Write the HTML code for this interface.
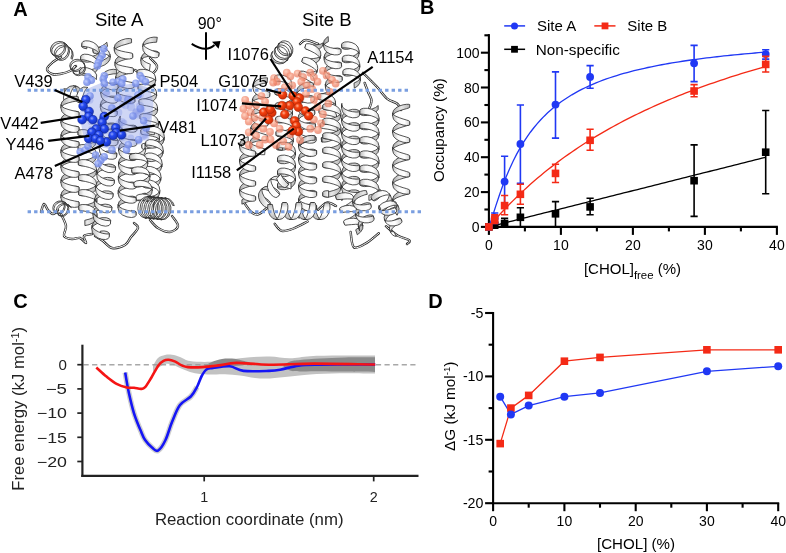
<!DOCTYPE html>
<html><head><meta charset="utf-8"><style>
html,body{margin:0;padding:0;background:#fff;width:786px;height:553px;overflow:hidden}
svg{display:block;filter:blur(0.35px)}
</style></head><body>
<svg width="786" height="553" viewBox="0 0 786 553">
<rect width="786" height="553" fill="#fff"/>
<defs>
<linearGradient id="gh" x1="0" y1="0" x2="1" y2="0"><stop offset="0" stop-color="#bdbdbd"/><stop offset="0.3" stop-color="#f8f8f8"/><stop offset="0.7" stop-color="#fff"/><stop offset="1" stop-color="#d0d0d0"/></linearGradient>
<linearGradient id="gv" x1="0" y1="0" x2="0" y2="1"><stop offset="0" stop-color="#bdbdbd"/><stop offset="0.3" stop-color="#f8f8f8"/><stop offset="0.7" stop-color="#fff"/><stop offset="1" stop-color="#d0d0d0"/></linearGradient>
<linearGradient id="gbh" x1="0" y1="0" x2="1" y2="0"><stop offset="0" stop-color="#a8a8a8"/><stop offset="0.5" stop-color="#e8e8e8"/><stop offset="1" stop-color="#b4b4b4"/></linearGradient>
<linearGradient id="gbv" x1="0" y1="0" x2="0" y2="1"><stop offset="0" stop-color="#a8a8a8"/><stop offset="0.5" stop-color="#e8e8e8"/><stop offset="1" stop-color="#b4b4b4"/></linearGradient>
<radialGradient id="sphB" cx="0.38" cy="0.35" r="0.7"><stop offset="0" stop-color="#8ea2ff"/><stop offset="0.35" stop-color="#2448f0"/><stop offset="1" stop-color="#1430b8"/></radialGradient>
<radialGradient id="sphR" cx="0.38" cy="0.35" r="0.7"><stop offset="0" stop-color="#ffb090"/><stop offset="0.35" stop-color="#f5400f"/><stop offset="1" stop-color="#c52a05"/></radialGradient>
<radialGradient id="sphL" cx="0.4" cy="0.35" r="0.7"><stop offset="0" stop-color="#b8c6ff"/><stop offset="0.5" stop-color="#7f96ee"/><stop offset="1" stop-color="#6a80dc"/></radialGradient>
<radialGradient id="sphS" cx="0.4" cy="0.35" r="0.7"><stop offset="0" stop-color="#ffc0a8"/><stop offset="0.5" stop-color="#f2876a"/><stop offset="1" stop-color="#e4745a"/></radialGradient>
</defs>
<g><path d="M61.0,57.0 C59.7,57.8 55.3,60.0 53.0,62.0 C50.7,64.0 47.2,67.0 47.0,69.0 C46.8,71.0 49.8,73.2 52.0,74.0 C54.2,74.8 57.0,74.5 60.0,74.0 C63.0,73.5 67.3,72.3 70.0,71.0 C72.7,69.7 75.0,66.8 76.0,66.0" fill="none" stroke="#2a2a2a" stroke-width="2.4" stroke-linecap="round" stroke-linejoin="round"/><path d="M61.0,57.0 C59.7,57.8 55.3,60.0 53.0,62.0 C50.7,64.0 47.2,67.0 47.0,69.0 C46.8,71.0 49.8,73.2 52.0,74.0 C54.2,74.8 57.0,74.5 60.0,74.0 C63.0,73.5 67.3,72.3 70.0,71.0 C72.7,69.7 75.0,66.8 76.0,66.0" fill="none" stroke="#f6f6f6" stroke-width="1.0" stroke-linecap="round" stroke-linejoin="round"/><path d="M150.0,58.0 C151.2,59.3 156.5,63.5 157.0,66.0 C157.5,68.5 155.3,71.7 153.0,73.0 C150.7,74.3 146.0,74.5 143.0,74.0 C140.0,73.5 136.3,70.7 135.0,70.0" fill="none" stroke="#2a2a2a" stroke-width="2.4" stroke-linecap="round" stroke-linejoin="round"/><path d="M150.0,58.0 C151.2,59.3 156.5,63.5 157.0,66.0 C157.5,68.5 155.3,71.7 153.0,73.0 C150.7,74.3 146.0,74.5 143.0,74.0 C140.0,73.5 136.3,70.7 135.0,70.0" fill="none" stroke="#f6f6f6" stroke-width="1.0" stroke-linecap="round" stroke-linejoin="round"/><path d="M41.0,212.0 C41.5,210.7 42.8,204.3 44.0,204.0 C45.2,203.7 46.5,208.3 48.0,210.0 C49.5,211.7 51.3,214.0 53.0,214.0 C54.7,214.0 57.2,210.7 58.0,210.0" fill="none" stroke="#2a2a2a" stroke-width="2.4" stroke-linecap="round" stroke-linejoin="round"/><path d="M41.0,212.0 C41.5,210.7 42.8,204.3 44.0,204.0 C45.2,203.7 46.5,208.3 48.0,210.0 C49.5,211.7 51.3,214.0 53.0,214.0 C54.7,214.0 57.2,210.7 58.0,210.0" fill="none" stroke="#f6f6f6" stroke-width="1.0" stroke-linecap="round" stroke-linejoin="round"/><path d="M61.0,214.0 C61.8,216.0 65.5,222.3 66.0,226.0 C66.5,229.7 63.0,233.8 64.0,236.0 C65.0,238.2 69.3,238.7 72.0,239.0 C74.7,239.3 77.7,237.3 80.0,238.0 C82.3,238.7 85.3,243.3 86.0,243.0 C86.7,242.7 83.0,237.5 84.0,236.0 C85.0,234.5 90.7,234.3 92.0,234.0" fill="none" stroke="#2a2a2a" stroke-width="2.4" stroke-linecap="round" stroke-linejoin="round"/><path d="M61.0,214.0 C61.8,216.0 65.5,222.3 66.0,226.0 C66.5,229.7 63.0,233.8 64.0,236.0 C65.0,238.2 69.3,238.7 72.0,239.0 C74.7,239.3 77.7,237.3 80.0,238.0 C82.3,238.7 85.3,243.3 86.0,243.0 C86.7,242.7 83.0,237.5 84.0,236.0 C85.0,234.5 90.7,234.3 92.0,234.0" fill="none" stroke="#f6f6f6" stroke-width="1.0" stroke-linecap="round" stroke-linejoin="round"/><path d="M95.0,236.0 C96.3,236.8 100.2,239.0 103.0,241.0 C105.8,243.0 108.3,247.3 112.0,248.0 C115.7,248.7 121.8,246.8 125.0,245.0 C128.2,243.2 128.8,239.8 131.0,237.0 C133.2,234.2 137.5,230.3 138.0,228.0 C138.5,225.7 134.7,223.8 134.0,223.0" fill="none" stroke="#2a2a2a" stroke-width="2.4" stroke-linecap="round" stroke-linejoin="round"/><path d="M95.0,236.0 C96.3,236.8 100.2,239.0 103.0,241.0 C105.8,243.0 108.3,247.3 112.0,248.0 C115.7,248.7 121.8,246.8 125.0,245.0 C128.2,243.2 128.8,239.8 131.0,237.0 C133.2,234.2 137.5,230.3 138.0,228.0 C138.5,225.7 134.7,223.8 134.0,223.0" fill="none" stroke="#f6f6f6" stroke-width="1.0" stroke-linecap="round" stroke-linejoin="round"/><path d="M150.0,220.0 C151.3,221.3 154.7,226.0 158.0,228.0 C161.3,230.0 166.7,232.3 170.0,232.0 C173.3,231.7 177.7,228.7 178.0,226.0 C178.3,223.3 173.0,217.7 172.0,216.0" fill="none" stroke="#2a2a2a" stroke-width="2.4" stroke-linecap="round" stroke-linejoin="round"/><path d="M150.0,220.0 C151.3,221.3 154.7,226.0 158.0,228.0 C161.3,230.0 166.7,232.3 170.0,232.0 C173.3,231.7 177.7,228.7 178.0,226.0 C178.3,223.3 173.0,217.7 172.0,216.0" fill="none" stroke="#f6f6f6" stroke-width="1.0" stroke-linecap="round" stroke-linejoin="round"/><path d="M106.8,42.2 104.8,44.1 101.9,45.9 98.6,47.4 95.6,48.6 93.6,49.3 92.8,49.7 93.3,52.6 94.2,53.1 96.4,53.1 99.4,52.4 102.7,50.9 105.6,48.7 107.5,46.1Z M109.8,54.0 109.2,56.0 107.1,58.0 103.8,59.9 100.3,61.5 97.3,62.7 98.0,67.0 101.1,66.4 104.7,64.9 107.8,62.6 109.8,59.8 110.3,56.9Z" fill="url(#gbh)" stroke="#2a2a2a" stroke-width="0.8" stroke-linejoin="round"/><path d="M92.8,49.4 93.4,48.4 95.5,47.6 98.7,47.3 102.4,47.7 105.9,49.0 108.5,51.0 109.7,53.7 110.3,57.2 109.3,55.8 106.8,54.6 103.5,53.9 99.8,53.5 96.5,53.3 94.2,53.2 93.4,52.9Z" fill="url(#gh)" stroke="#2a2a2a" stroke-width="0.8" stroke-linejoin="round"/><path d="M157.3,37.3 153.9,37.1 150.2,37.7 146.8,39.1 144.3,41.3 143.1,44.0 142.7,47.0 143.8,45.2 146.1,43.8 149.5,42.9 153.2,42.4 156.6,42.2Z M159.1,53.1 158.4,52.0 156.1,51.1 152.7,50.8 148.8,51.2 145.2,52.6 142.5,54.8 141.3,57.6 140.9,60.6 142.0,58.8 144.6,57.3 148.1,56.4 152.0,55.9 155.5,55.9 157.8,56.0 158.7,56.1Z" fill="url(#gbh)" stroke="#2a2a2a" stroke-width="0.8" stroke-linejoin="round"/><path d="M143.2,43.6 143.8,45.6 145.9,47.5 149.1,49.3 152.7,50.8 156.0,51.9 158.3,52.5 159.1,52.7 158.6,56.5 157.6,57.5 155.2,57.8 151.8,57.3 148.2,55.8 145.1,53.5 143.1,50.5 142.7,47.4Z M141.3,57.2 141.9,59.1 143.8,61.0 146.8,62.8 150.3,64.2 149.4,70.8 145.9,69.2 143.0,66.9 141.2,64.0 140.8,61.0Z" fill="url(#gh)" stroke="#2a2a2a" stroke-width="0.8" stroke-linejoin="round"/><path d="M87.2,43.9 84.4,43.8 82.6,43.5 82.0,43.2 81.7,46.1 82.2,47.3 84.0,48.2 86.7,48.8Z M99.3,51.4 98.2,53.6 95.6,55.3 91.8,56.5 87.8,57.2 84.1,57.2 81.7,56.9 80.8,56.5 80.6,59.5 81.3,60.8 83.8,61.8 87.3,62.2 91.4,61.6 95.2,59.9 97.9,57.4 99.1,54.3Z M98.2,64.7 97.1,66.9 94.4,68.7 90.7,69.9 86.6,70.5 83.0,70.6 80.5,70.3 79.7,69.9 79.4,72.8 80.2,74.2 82.6,75.2 86.2,75.5 90.3,74.9 94.0,73.3 96.8,70.8 97.9,67.7Z" fill="url(#gbh)" stroke="#2a2a2a" stroke-width="0.8" stroke-linejoin="round"/><path d="M82.0,42.8 83.0,41.5 85.6,40.8 89.2,41.0 93.1,42.3 96.5,44.6 98.7,47.7 99.3,51.0 99.0,54.7 98.3,52.5 96.0,50.4 92.5,48.6 88.6,47.3 85.1,46.6 82.6,46.4 81.7,46.5Z M80.8,56.2 81.8,54.9 84.4,54.2 88.0,54.4 91.9,55.7 95.3,58.0 97.6,61.0 98.2,64.4 97.9,68.0 97.2,65.8 94.9,63.7 91.4,62.0 87.5,60.7 83.9,59.9 81.4,59.7 80.5,59.8Z M79.7,69.5 80.8,68.2 83.5,67.5 87.2,67.8 91.2,69.2 94.6,71.7 96.7,74.9 96.3,79.6 94.1,77.4 90.7,75.5 86.7,74.1 83.0,73.3 80.3,73.0 79.4,73.2Z" fill="url(#gh)" stroke="#2a2a2a" stroke-width="0.8" stroke-linejoin="round"/><path d="M131.5,38.9 129.3,38.5 125.7,38.8 121.6,40.0 117.7,41.9 115.1,44.6 114.3,47.5 114.4,50.7 115.3,48.9 118.0,47.1 121.8,45.5 126.0,44.3 129.5,43.3 131.6,42.7Z M132.6,54.1 131.7,53.5 129.2,53.3 125.6,53.7 121.6,55.0 118.1,57.0 115.7,59.5 115.0,62.3 115.1,65.5 115.9,63.7 118.4,62.0 121.9,60.5 125.8,59.3 129.4,58.3 131.9,57.7 132.7,57.2Z M133.3,68.8 132.4,68.2 129.9,68.0 126.3,68.5 122.3,69.8 118.8,71.7 116.4,74.3 115.7,77.1 115.8,80.2 116.6,78.5 119.1,76.8 122.6,75.3 126.6,74.0 130.1,73.1 132.6,72.4 133.5,72.0Z M134.0,83.6 133.1,83.0 130.6,82.8 127.0,83.3 123.1,84.5 119.5,86.5 117.2,89.0 116.4,91.8 116.6,95.0 117.4,93.3 119.8,91.6 123.3,90.1 127.3,88.8 130.8,87.9 133.3,87.2 134.2,86.7Z M134.7,98.4 133.5,97.7 130.3,97.6 126.0,98.5 126.2,104.1 130.6,102.9 133.7,102.0 134.9,101.5Z" fill="url(#gbh)" stroke="#2a2a2a" stroke-width="0.8" stroke-linejoin="round"/><path d="M114.2,47.1 115.2,48.7 117.8,50.0 121.4,51.1 125.5,52.0 129.1,52.6 131.7,53.2 132.6,53.7 132.8,57.6 131.9,58.4 129.4,59.0 125.8,58.9 121.8,58.0 118.1,56.3 115.5,53.9 114.4,51.1Z M115.0,61.9 115.9,63.4 118.5,64.8 122.2,65.9 126.2,66.7 129.8,67.4 132.4,67.9 133.3,68.4 133.5,72.4 132.6,73.2 130.2,73.7 126.5,73.7 122.5,72.8 118.8,71.1 116.2,68.7 115.1,65.8Z M115.7,76.7 116.6,78.2 119.2,79.5 122.9,80.6 126.9,81.5 130.6,82.2 133.1,82.7 134.0,83.2 134.2,87.1 133.3,88.0 130.9,88.5 127.3,88.4 123.2,87.6 119.5,85.9 116.9,83.5 115.9,80.6Z M116.4,91.5 117.3,93.0 119.9,94.3 123.6,95.4 127.6,96.3 131.3,96.9 133.8,97.5 134.7,98.0 134.9,101.9 134.1,102.7 131.6,103.3 128.0,103.2 123.9,102.3 120.2,100.6 117.6,98.2 116.6,95.4Z" fill="url(#gh)" stroke="#2a2a2a" stroke-width="0.8" stroke-linejoin="round"/><path d="M63.8,88.7 64.7,92.0 65.2,95.5 65.4,98.5 65.3,100.5 65.3,101.2 68.1,101.5 69.0,100.8 69.8,98.8 70.0,95.9 69.6,92.4 68.4,89.1Z M73.0,85.8 74.8,86.8 76.3,89.1 77.3,92.5 77.9,96.1 78.1,99.3 78.1,101.5 78.0,102.3 80.9,102.6 81.8,101.9 82.6,99.7 82.8,96.5 82.2,92.9 80.7,89.5 78.5,87.1 75.8,86.1Z" fill="url(#gbv)" stroke="#2a2a2a" stroke-width="0.8" stroke-linejoin="round"/><path d="M64.9,101.2 63.9,100.3 63.5,98.0 63.8,94.9 65.0,91.4 67.1,88.3 69.7,86.4 72.7,85.8 76.2,86.1 74.4,86.8 72.7,88.8 71.1,91.9 69.9,95.4 69.0,98.5 68.6,100.7 68.4,101.5Z M77.7,102.3 76.7,101.3 76.2,98.8 76.8,95.2 78.3,91.6 80.7,88.6 83.7,87.0 87.9,87.4 86.0,89.1 84.3,92.1 82.9,95.8 81.9,99.3 81.4,101.7 81.2,102.6Z" fill="url(#gv)" stroke="#2a2a2a" stroke-width="0.8" stroke-linejoin="round"/><path d="M116.7,69.7 113.3,69.3 109.2,69.9 105.3,71.6 102.5,74.3 101.4,77.5 101.3,80.3 102.4,78.0 105.2,76.0 109.1,74.6 113.2,73.9 116.5,73.8Z M118.1,84.8 117.3,83.6 115.0,82.8 111.6,82.7 107.8,83.6 104.3,85.3 101.9,87.9 100.9,90.9 100.8,93.7 101.7,91.5 104.2,89.7 107.6,88.3 111.4,87.5 114.8,87.2 117.2,87.3 118.0,87.6Z M117.7,98.2 116.9,97.0 114.5,96.2 111.1,96.1 107.3,97.0 103.8,98.7 101.4,101.3 100.4,104.3 100.4,107.1 101.3,104.9 103.7,103.1 107.2,101.7 111.0,100.8 114.4,100.5 116.7,100.7 117.6,101.0Z M117.2,111.6 116.4,110.4 114.1,109.6 110.7,109.5 106.9,110.4 103.4,112.1 100.9,114.7 100.0,117.7 99.9,120.4 100.8,118.3 103.2,116.4 106.7,115.1 110.5,114.2 113.9,113.9 116.3,114.0 117.1,114.3Z M116.7,125.0 115.9,123.8 113.4,123.0 109.8,123.0 105.9,123.9 102.4,125.9 100.1,128.7 100.0,132.1 102.2,130.1 105.7,128.6 109.6,127.7 113.2,127.3 115.8,127.4 116.7,127.7Z" fill="url(#gbh)" stroke="#2a2a2a" stroke-width="0.8" stroke-linejoin="round"/><path d="M101.4,77.2 102.2,79.3 104.4,81.2 107.8,82.8 111.6,83.9 114.9,84.5 117.3,84.6 118.1,84.5 118.0,87.9 117.1,89.1 114.8,89.9 111.3,89.8 107.6,88.7 104.3,86.6 102.0,83.8 101.3,80.6Z M100.9,90.6 101.7,92.7 104.0,94.6 107.3,96.2 111.1,97.3 114.5,97.8 116.8,98.0 117.7,97.9 117.6,101.3 116.7,102.5 114.3,103.2 110.9,103.1 107.1,102.1 103.8,100.0 101.5,97.2 100.8,94.0Z M100.5,104.0 101.2,106.1 103.5,108.0 106.9,109.6 110.6,110.7 114.0,111.2 116.4,111.4 117.2,111.2 117.1,114.7 116.2,115.9 113.8,116.6 110.4,116.5 106.7,115.4 103.3,113.4 101.1,110.6 100.3,107.4Z M100.0,117.4 100.8,119.5 103.1,121.4 106.4,123.0 110.2,124.0 113.6,124.6 115.9,124.8 116.8,124.6 116.6,128.1 115.8,129.3 113.4,130.0 110.0,129.9 106.2,128.8 102.9,126.8 100.6,124.0 99.9,120.8Z" fill="url(#gh)" stroke="#2a2a2a" stroke-width="0.8" stroke-linejoin="round"/><path d="M140.7,70.0 138.7,70.5 137.5,70.9 137.1,71.2 137.3,74.4 137.7,74.8 139.0,75.1 141.0,75.1Z M155.5,77.4 154.7,79.2 152.3,80.9 148.8,82.5 144.9,83.8 141.3,84.8 138.9,85.5 138.0,86.0 138.2,89.1 139.1,89.7 141.6,89.9 145.2,89.3 149.2,88.0 152.6,86.0 155.0,83.4 155.7,80.6Z M156.4,92.2 155.7,93.9 153.3,95.7 149.8,97.2 145.8,98.5 142.3,99.6 139.8,100.3 139.0,100.7 139.2,103.9 140.1,104.5 142.6,104.6 146.2,104.1 150.1,102.8 153.6,100.7 155.9,98.2 156.6,95.3Z M157.4,107.0 156.6,108.7 154.2,110.4 150.7,112.0 146.8,113.3 143.2,114.3 140.8,115.0 139.9,115.5 140.1,118.6 141.0,119.2 143.5,119.4 147.1,118.8 151.1,117.5 154.5,115.5 156.9,112.9 157.6,110.1Z M158.3,121.7 157.6,123.5 155.2,125.2 151.6,126.8 147.7,128.1 144.2,129.1 141.7,129.8 140.8,130.2 141.0,133.4 142.0,134.0 144.5,134.1 148.1,133.6 152.0,132.3 155.5,130.2 157.8,127.7 158.5,124.9Z M159.3,136.5 158.2,138.5 155.0,140.5 150.6,142.2 146.2,143.5 143.0,144.4 141.8,145.0 142.0,148.1 143.2,148.8 146.5,148.8 151.0,147.8 155.4,145.7 158.5,142.9 159.5,139.6Z" fill="url(#gbh)" stroke="#2a2a2a" stroke-width="0.8" stroke-linejoin="round"/><path d="M137.0,70.8 137.9,70.0 140.3,69.4 144.0,69.4 148.0,70.2 151.7,71.9 154.4,74.2 155.5,77.0 155.7,81.0 154.7,79.5 152.1,78.2 148.5,77.1 144.4,76.3 140.7,75.7 138.2,75.2 137.3,74.8Z M138.0,85.6 138.8,84.7 141.3,84.2 144.9,84.2 149.0,85.0 152.7,86.6 155.3,89.0 156.4,91.8 156.7,95.7 155.7,94.2 153.1,92.9 149.4,91.9 145.3,91.1 141.7,90.5 139.2,90.0 138.2,89.5Z M138.9,100.3 139.8,99.5 142.2,98.9 145.8,98.9 149.9,99.7 153.6,101.4 156.3,103.7 157.4,106.6 157.6,110.5 156.6,109.0 154.0,107.7 150.4,106.6 146.3,105.8 142.6,105.2 140.1,104.8 139.2,104.3Z M139.9,115.1 140.7,114.3 143.2,113.7 146.8,113.7 150.9,114.5 154.6,116.1 157.2,118.5 158.3,121.3 158.6,125.2 157.6,123.7 155.0,122.4 151.3,121.4 147.2,120.6 143.6,120.0 141.0,119.5 140.1,119.0Z M140.8,129.8 141.7,129.0 144.1,128.4 147.7,128.4 151.8,129.2 155.5,130.9 158.2,133.2 159.3,136.1 159.5,140.0 158.5,138.5 155.9,137.2 152.2,136.2 148.2,135.4 144.5,134.8 142.0,134.3 141.1,133.8Z M141.8,144.6 142.1,144.1 143.1,143.6 144.8,143.2 145.2,149.5 143.5,149.2 142.4,148.8 142.0,148.5Z" fill="url(#gh)" stroke="#2a2a2a" stroke-width="0.8" stroke-linejoin="round"/><path d="M78.3,96.8 75.9,96.3 72.3,96.4 68.2,97.5 64.5,99.4 61.9,102.0 61.0,105.0 61.0,108.1 61.9,106.1 64.5,104.3 68.2,102.9 72.3,101.8 75.9,101.2 78.3,100.8Z M79.0,112.5 78.1,111.7 75.6,111.2 72.0,111.5 68.0,112.5 64.4,114.5 61.9,117.0 61.0,120.0 61.0,123.1 61.9,121.2 64.4,119.4 68.0,117.9 72.0,116.9 75.6,116.2 78.1,115.8 79.0,115.6Z M79.0,127.5 78.1,126.7 75.6,126.2 72.0,126.5 68.0,127.5 64.4,129.4 61.9,132.0 61.0,135.0 61.0,138.1 61.9,136.1 64.4,134.4 68.0,132.9 72.0,131.9 75.6,131.2 78.1,130.8 79.0,130.6Z M79.0,142.5 78.1,141.7 75.6,141.2 72.0,141.4 68.0,142.5 64.4,144.4 61.9,147.0 61.0,150.0 61.0,153.0 61.9,151.1 64.4,149.4 68.0,147.9 72.0,146.9 75.6,146.2 78.1,145.8 79.0,145.6Z M79.0,157.5 78.1,156.6 75.6,156.2 72.0,156.4 68.0,157.5 64.4,159.4 61.9,162.0 61.0,164.9 61.0,168.0 61.9,166.1 64.4,164.4 68.0,162.9 72.0,161.8 75.6,161.1 78.1,160.8 79.0,160.5Z M79.0,172.4 77.8,171.5 74.5,171.2 70.0,171.9 65.5,173.7 62.2,176.5 61.0,179.9 61.0,183.0 62.2,180.8 65.5,178.8 70.0,177.3 74.5,176.3 77.8,175.8 79.0,175.5Z M79.0,187.4 78.1,186.6 75.6,186.2 72.0,186.4 68.0,187.5 64.4,189.4 61.9,192.0 61.0,194.9 61.0,198.0 61.9,196.1 64.4,194.3 68.0,192.9 72.0,191.8 75.6,191.1 78.1,190.7 79.0,190.5Z M79.0,202.4 78.9,202.1 78.6,201.9 78.2,201.6 78.2,205.7 78.6,205.6 78.9,205.6 79.0,205.5Z" fill="url(#gbh)" stroke="#2a2a2a" stroke-width="0.8" stroke-linejoin="round"/><path d="M61.0,104.6 61.9,106.4 64.4,108.1 68.0,109.4 72.0,110.5 75.6,111.3 78.1,111.8 79.0,112.1 79.0,116.0 78.1,116.9 75.6,117.4 72.0,117.3 68.0,116.2 64.4,114.2 61.9,111.6 61.0,108.5Z M61.0,119.6 61.9,121.4 64.4,123.0 68.0,124.4 72.0,125.5 75.6,126.3 78.1,126.7 79.0,127.1 79.0,131.0 78.1,131.9 75.6,132.4 72.0,132.3 68.0,131.2 64.4,129.2 61.9,126.5 61.0,123.5Z M61.0,134.6 61.9,136.4 64.4,138.0 68.0,139.4 72.0,140.5 75.6,141.2 78.1,141.7 79.0,142.1 79.0,145.9 78.1,146.9 75.6,147.4 72.0,147.2 68.0,146.2 64.4,144.2 61.9,141.5 61.0,138.4Z M61.0,149.6 61.9,151.4 64.4,153.0 68.0,154.4 72.0,155.5 75.6,156.2 78.1,156.7 79.0,157.1 79.0,160.9 78.1,161.9 75.6,162.4 72.0,162.2 68.0,161.2 64.4,159.2 61.9,156.5 61.0,153.4Z M61.0,164.6 61.9,166.4 64.4,168.0 68.0,169.4 72.0,170.5 75.6,171.2 78.1,171.7 79.0,172.1 79.0,175.9 78.1,176.9 75.6,177.4 72.0,177.2 68.0,176.2 64.4,174.2 61.9,171.5 61.0,168.4Z M61.0,179.5 61.9,181.3 64.4,183.0 68.0,184.4 72.0,185.5 75.6,186.2 78.1,186.7 79.0,187.0 79.0,190.9 78.1,191.8 75.6,192.4 72.0,192.2 68.0,191.1 64.4,189.2 61.9,186.5 61.0,183.4Z M61.0,194.5 62.2,196.6 65.5,198.5 70.0,200.0 74.5,201.0 77.8,201.6 79.0,202.0 79.0,205.9 77.8,207.0 74.5,207.4 70.0,206.8 65.5,204.9 62.2,202.0 61.0,198.4Z" fill="url(#gh)" stroke="#2a2a2a" stroke-width="0.8" stroke-linejoin="round"/><path d="M154.7,129.9 150.7,130.0 147.9,129.6 146.9,128.9 146.7,131.7 147.5,133.3 150.3,134.5 154.3,134.8Z M164.3,137.1 163.2,139.5 160.5,141.4 156.8,142.8 152.7,143.4 149.1,143.4 146.6,142.9 145.8,142.3 145.5,145.1 146.3,146.6 148.7,147.8 152.3,148.2 156.4,147.6 160.1,145.9 162.9,143.2 164.0,139.9Z M163.2,150.5 162.1,152.8 159.4,154.8 155.7,156.1 151.6,156.8 148.0,156.7 145.5,156.3 144.7,155.7 144.4,158.5 145.2,160.0 147.6,161.2 151.2,161.6 155.3,160.9 159.0,159.2 161.8,156.6 162.9,153.3Z M162.0,163.8 161.0,166.2 158.3,168.2 154.6,169.5 150.5,170.1 146.9,170.1 144.4,169.7 143.5,169.0 143.3,171.9 144.1,173.4 146.5,174.5 150.1,174.9 154.1,174.3 157.9,172.6 160.6,169.9 161.8,166.7Z M160.9,177.2 159.8,179.6 157.2,181.6 153.4,182.9 149.4,183.5 145.7,183.5 143.3,183.0 142.4,182.4 142.2,185.3 143.0,186.8 145.4,187.9 149.0,188.3 153.0,187.7 156.8,186.0 159.5,183.3 160.7,180.1Z M159.8,190.6 158.4,193.3 154.9,195.5 150.3,196.7 145.7,196.9 142.5,196.5 141.3,195.8 141.1,198.6 142.1,200.4 145.4,201.5 149.9,201.5 154.5,200.1 158.1,197.2 159.6,193.4Z" fill="url(#gbh)" stroke="#2a2a2a" stroke-width="0.8" stroke-linejoin="round"/><path d="M146.9,128.5 147.9,127.1 150.5,126.2 154.1,126.4 158.0,127.7 161.5,130.0 163.7,133.2 164.3,136.7 164.0,140.3 163.3,137.9 161.0,135.6 157.5,133.7 153.6,132.4 150.1,131.8 147.6,131.7 146.6,132.1Z M145.8,141.9 146.8,140.5 149.4,139.6 153.0,139.8 156.9,141.1 160.3,143.4 162.6,146.6 163.2,150.1 162.9,153.7 162.2,151.2 159.9,148.9 156.4,147.1 152.5,145.8 148.9,145.2 146.4,145.1 145.5,145.5Z M144.7,155.3 145.7,153.8 148.3,153.0 151.9,153.1 155.8,154.4 159.2,156.8 161.5,160.0 162.1,163.5 161.8,167.0 161.1,164.6 158.8,162.3 155.3,160.4 151.4,159.2 147.8,158.5 145.3,158.5 144.4,158.9Z M143.6,168.7 144.6,167.2 147.2,166.4 150.8,166.5 154.7,167.8 158.1,170.2 160.4,173.3 161.0,176.9 160.7,180.4 160.0,178.0 157.7,175.7 154.2,173.8 150.3,172.5 146.7,171.9 144.2,171.9 143.3,172.2Z M142.5,182.0 143.5,180.6 146.1,179.8 149.7,179.9 153.6,181.2 157.0,183.5 159.2,186.7 159.8,190.2 159.5,193.8 158.9,191.4 156.5,189.1 153.1,187.2 149.2,185.9 145.6,185.3 143.1,185.2 142.2,185.6Z M141.3,195.4 141.9,194.3 143.3,193.5 145.4,193.1 144.9,198.7 142.9,198.6 141.5,198.7 141.1,199.0Z" fill="url(#gh)" stroke="#2a2a2a" stroke-width="0.8" stroke-linejoin="round"/><path d="M120.3,116.0 119.6,117.1 119.2,118.4 119.0,119.6 119.0,122.6 119.1,121.8 119.6,121.0 120.3,120.2Z M136.9,126.9 136.0,125.9 133.6,125.2 129.9,125.3 125.9,126.2 122.3,128.1 119.8,130.8 118.9,133.8 118.8,136.8 119.7,134.8 122.3,132.9 125.9,131.5 129.9,130.5 133.5,130.0 136.0,129.9 136.9,129.9Z M136.8,141.1 135.9,140.1 133.4,139.4 129.8,139.5 125.8,140.4 122.2,142.3 119.6,145.0 118.7,148.0 118.7,151.1 119.6,149.0 122.1,147.1 125.7,145.7 129.7,144.7 133.4,144.2 135.9,144.1 136.7,144.1Z M136.6,155.3 135.8,154.3 133.3,153.6 129.7,153.7 125.6,154.6 122.0,156.5 119.5,159.2 118.6,162.2 118.5,165.3 119.4,163.2 122.0,161.3 125.6,159.9 129.6,158.9 133.2,158.4 135.7,158.3 136.6,158.3Z M136.5,169.5 135.6,168.5 133.1,167.8 129.5,167.9 125.5,168.9 121.9,170.7 119.3,173.4 118.4,176.4 118.4,179.5 119.3,177.4 121.8,175.5 125.4,174.1 129.4,173.1 133.1,172.6 135.6,172.5 136.5,172.5Z M136.3,183.7 135.1,182.5 131.9,182.0 127.3,182.5 122.8,184.2 119.5,187.1 118.3,190.6 118.2,193.7 119.5,191.3 122.8,189.2 127.3,187.7 131.8,186.9 135.1,186.7 136.3,186.8Z M136.2,197.9 135.3,196.9 132.8,196.2 129.2,196.3 125.2,197.3 121.6,199.2 119.0,201.8 118.1,204.8 118.1,207.9 119.0,205.8 121.5,204.0 125.1,202.5 129.2,201.5 132.8,201.0 135.3,200.9 136.2,201.0Z M136.0,212.1 135.5,211.3 133.8,210.6 131.3,210.4 131.2,215.4 133.8,215.1 135.4,215.1 136.0,215.2Z" fill="url(#gbh)" stroke="#2a2a2a" stroke-width="0.8" stroke-linejoin="round"/><path d="M119.0,119.2 119.9,121.2 122.4,123.0 126.0,124.5 129.9,125.5 133.5,126.2 136.0,126.5 136.9,126.5 136.9,130.3 136.0,131.5 133.5,132.2 129.9,132.1 125.9,131.0 122.3,129.0 119.8,126.2 119.0,123.0Z M118.9,133.4 119.7,135.4 122.2,137.2 125.8,138.7 129.8,139.7 133.4,140.4 135.9,140.7 136.8,140.7 136.7,144.5 135.8,145.7 133.3,146.4 129.7,146.3 125.7,145.2 122.1,143.2 119.7,140.4 118.8,137.2Z M118.7,147.7 119.6,149.6 122.1,151.4 125.7,152.9 129.6,154.0 133.3,154.6 135.7,154.9 136.6,154.9 136.6,158.7 135.7,159.9 133.2,160.6 129.6,160.5 125.6,159.4 122.0,157.4 119.5,154.6 118.7,151.4Z M118.6,161.9 119.4,163.8 121.9,165.6 125.5,167.1 129.5,168.2 133.1,168.8 135.6,169.1 136.5,169.1 136.4,172.9 135.5,174.1 133.0,174.8 129.4,174.7 125.4,173.6 121.9,171.6 119.4,168.8 118.5,165.6Z M118.4,176.1 119.3,178.0 121.8,179.8 125.4,181.3 129.4,182.4 133.0,183.0 135.5,183.3 136.3,183.4 136.3,187.1 135.4,188.3 132.9,189.0 129.3,188.9 125.3,187.9 121.7,185.8 119.2,183.0 118.4,179.8Z M118.3,190.3 119.1,192.2 121.6,194.0 125.2,195.5 129.2,196.6 132.8,197.2 135.3,197.5 136.2,197.6 136.2,201.3 135.2,202.5 132.7,203.2 129.1,203.1 125.1,202.1 121.6,200.0 119.1,197.2 118.2,194.0Z M118.1,204.5 119.3,206.8 122.6,208.8 127.1,210.3 131.5,211.2 134.8,211.7 136.0,211.8 136.0,215.5 134.8,216.9 131.5,217.5 127.0,216.9 122.5,215.0 119.2,212.0 118.1,208.3Z" fill="url(#gh)" stroke="#2a2a2a" stroke-width="0.8" stroke-linejoin="round"/><path d="M84.1,130.3 80.9,131.0 78.8,131.3 78.0,131.5 78.1,134.6 78.8,135.4 81.0,135.8 84.2,135.7Z M96.1,138.8 95.2,140.7 92.8,142.5 89.2,144.0 85.2,145.1 81.6,145.9 79.1,146.3 78.2,146.5 78.2,149.6 79.1,150.4 81.6,150.8 85.2,150.5 89.2,149.4 92.8,147.5 95.3,144.9 96.1,141.9Z M96.3,153.8 95.4,155.7 92.9,157.5 89.3,159.0 85.3,160.1 81.7,160.8 79.2,161.3 78.3,161.5 78.4,164.6 79.3,165.4 81.8,165.8 85.4,165.5 89.4,164.4 93.0,162.5 95.4,159.8 96.3,156.9Z M96.4,168.8 95.6,170.7 93.1,172.5 89.5,174.0 85.5,175.1 81.9,175.8 79.4,176.2 78.5,176.5 78.6,179.6 79.5,180.4 82.0,180.8 85.6,180.5 89.6,179.4 93.1,177.4 95.6,174.8 96.5,171.9Z M96.6,183.8 95.7,185.7 93.3,187.5 89.7,189.0 85.7,190.1 82.1,190.8 79.6,191.2 78.7,191.5 78.7,194.6 79.6,195.4 82.1,195.8 85.7,195.5 89.7,194.4 93.3,192.4 95.8,189.8 96.6,186.9Z M96.8,198.8 95.6,201.0 92.3,203.0 87.8,204.6 83.3,205.6 80.1,206.2 78.8,206.5 78.9,209.5 80.1,210.4 83.4,210.7 87.9,210.0 92.4,208.2 95.6,205.3 96.8,201.8Z M96.9,213.7 95.9,215.8 93.1,217.7 89.1,219.2 84.8,220.3 84.9,225.6 89.1,224.7 93.1,222.8 96.0,220.0 97.0,216.8Z" fill="url(#gbh)" stroke="#2a2a2a" stroke-width="0.8" stroke-linejoin="round"/><path d="M78.0,131.1 78.9,130.2 81.4,129.6 85.0,129.7 89.0,130.8 92.6,132.7 95.2,135.4 96.1,138.4 96.1,142.3 95.2,140.5 92.7,138.9 89.1,137.5 85.1,136.5 81.5,135.8 79.0,135.3 78.1,135.0Z M78.2,146.1 79.1,145.2 81.6,144.6 85.2,144.7 89.2,145.8 92.8,147.7 95.3,150.3 96.3,153.4 96.3,157.3 95.4,155.5 92.9,153.9 89.3,152.5 85.2,151.5 81.6,150.8 79.1,150.3 78.2,150.0Z M78.3,161.1 79.2,160.2 81.7,159.6 85.3,159.7 89.3,160.7 93.0,162.7 95.5,165.3 96.4,168.4 96.5,172.3 95.6,170.5 93.0,168.9 89.4,167.5 85.4,166.5 81.8,165.8 79.3,165.3 78.4,165.0Z M78.5,176.1 79.4,175.1 81.9,174.6 85.5,174.7 89.5,175.7 93.1,177.7 95.7,180.3 96.6,183.4 96.6,187.2 95.7,185.5 93.2,183.8 89.6,182.5 85.6,181.5 82.0,180.8 79.4,180.3 78.6,180.0Z M78.7,191.1 79.6,190.1 82.1,189.6 85.7,189.7 89.7,190.7 93.3,192.6 95.8,195.3 96.8,198.4 96.8,202.2 95.9,200.5 93.4,198.8 89.8,197.5 85.7,196.4 82.1,195.7 79.6,195.3 78.7,194.9Z M78.8,206.1 79.7,205.1 82.2,204.5 85.8,204.7 89.8,205.7 93.5,207.6 96.0,210.3 96.9,213.4 97.0,217.2 96.1,215.4 93.5,213.8 89.9,212.5 85.9,211.4 82.3,210.7 79.8,210.3 78.9,209.9Z" fill="url(#gh)" stroke="#2a2a2a" stroke-width="0.8" stroke-linejoin="round"/><path d="M114.6,124.1 110.2,124.1 105.7,125.6 102.3,128.4 100.8,132.1 100.5,134.9 101.9,132.3 105.3,130.2 109.7,129.0 114.2,128.7Z M118.1,140.4 117.3,138.9 114.9,137.7 111.3,137.3 107.3,137.9 103.5,139.6 100.7,142.2 99.5,145.5 99.3,148.3 100.4,145.9 103.1,144.0 106.8,142.7 110.9,142.1 114.5,142.2 117.0,142.6 117.8,143.3Z M116.8,153.8 116.1,152.3 113.7,151.1 110.1,150.7 106.0,151.3 102.2,152.9 99.5,155.6 98.3,158.8 98.0,161.7 99.1,159.3 101.8,157.4 105.6,156.1 109.7,155.5 113.3,155.5 115.7,156.0 116.6,156.6Z M115.6,167.2 114.8,165.7 112.4,164.5 108.9,164.0 104.8,164.6 101.0,166.3 98.3,168.9 97.1,172.2 96.8,175.0 97.9,172.7 100.6,170.7 104.3,169.4 108.4,168.8 112.0,168.9 114.5,169.4 115.3,170.0Z M114.4,180.5 113.6,179.0 111.2,177.8 107.6,177.4 103.5,178.0 99.8,179.7 97.0,182.3 95.8,185.6 95.6,188.4 96.7,186.0 99.4,184.1 103.1,182.8 107.2,182.2 110.8,182.3 113.3,182.7 114.1,183.4Z M113.1,193.9 112.1,192.2 108.9,191.0 104.4,190.9 99.7,192.4 96.1,195.2 94.6,198.9 94.3,201.8 95.8,199.0 99.3,196.9 103.9,195.8 108.4,195.5 111.7,196.0 112.9,196.7Z M111.9,207.3 111.1,205.8 108.7,204.6 105.1,204.1 101.1,204.7 97.3,206.4 94.5,209.0 93.3,212.3 93.1,215.1 94.2,212.8 96.9,210.8 100.6,209.5 104.7,208.9 108.3,209.0 110.8,209.5 111.6,210.1Z M110.6,220.6 109.6,218.9 106.4,217.7 101.9,217.7 97.2,219.1 93.7,221.9 92.1,225.7 91.8,228.5 93.3,225.8 96.8,223.7 101.4,222.5 106.0,222.3 109.2,222.7 110.4,223.5Z M109.4,234.0 108.8,232.6 106.9,231.5 103.9,230.9 100.4,231.1 99.9,235.9 103.5,235.6 106.5,235.8 108.5,236.3 109.1,236.8Z" fill="url(#gbh)" stroke="#2a2a2a" stroke-width="0.8" stroke-linejoin="round"/><path d="M100.8,131.7 101.5,134.2 103.8,136.5 107.2,138.4 111.1,139.7 114.7,140.4 117.2,140.4 118.1,140.1 117.8,143.6 116.7,145.1 114.2,145.9 110.6,145.7 106.7,144.4 103.3,142.0 101.0,138.8 100.5,135.3Z M99.6,145.1 100.2,147.5 102.5,149.8 106.0,151.8 109.9,153.1 113.4,153.7 115.9,153.8 116.9,153.4 116.5,157.0 115.5,158.5 112.9,159.3 109.3,159.1 105.4,157.8 102.0,155.4 99.8,152.2 99.2,148.7Z M98.3,158.5 99.0,160.9 101.3,163.2 104.7,165.1 108.6,166.4 112.2,167.1 114.7,167.2 115.6,166.8 115.3,170.4 114.3,171.8 111.7,172.6 108.1,172.5 104.2,171.1 100.8,168.7 98.6,165.6 98.0,162.0Z M97.1,171.8 97.8,174.3 100.1,176.6 103.5,178.5 107.4,179.8 111.0,180.5 113.5,180.5 114.4,180.2 114.1,183.7 113.0,185.2 110.5,186.0 106.8,185.8 102.9,184.5 99.5,182.1 97.3,178.9 96.8,175.4Z M95.9,185.2 96.5,187.6 98.8,189.9 102.3,191.8 106.2,193.2 109.7,193.8 112.2,193.9 113.2,193.5 112.8,197.1 111.8,198.6 109.2,199.4 105.6,199.2 101.7,197.9 98.3,195.5 96.1,192.3 95.5,188.8Z M94.6,198.6 95.3,201.0 97.6,203.3 101.0,205.2 104.9,206.5 108.5,207.2 111.0,207.3 111.9,206.9 111.6,210.5 110.6,211.9 108.0,212.7 104.4,212.6 100.5,211.2 97.1,208.8 94.9,205.7 94.3,202.1Z M93.4,211.9 94.3,214.8 97.4,217.4 101.7,219.3 106.1,220.4 109.4,220.7 110.7,220.3 110.4,223.8 109.0,225.5 105.6,226.2 101.2,225.4 96.9,223.1 93.9,219.6 93.0,215.5Z M92.1,225.3 92.8,227.7 95.1,230.0 98.5,231.9 102.4,233.3 106.0,233.9 108.5,234.0 109.4,233.6 109.1,237.2 108.1,238.7 105.5,239.5 101.9,239.3 98.0,238.0 94.6,235.6 92.4,232.4 91.8,228.9Z" fill="url(#gh)" stroke="#2a2a2a" stroke-width="0.8" stroke-linejoin="round"/><path d="M145.1,147.7 143.7,150.1 140.7,152.3 136.8,154.2 133.1,155.5 130.4,156.2 129.4,156.3 129.9,159.1 131.0,160.0 133.9,160.0 137.6,159.1 141.4,157.1 144.3,154.2 145.6,150.9Z M147.3,160.4 146.8,162.5 144.8,164.6 141.6,166.6 138.1,168.2 134.8,169.3 132.5,169.8 131.6,169.9 132.1,172.7 133.1,173.5 135.5,173.7 138.8,173.0 142.4,171.4 145.5,169.1 147.4,166.2 147.8,163.2Z M149.5,173.9 149.0,176.0 147.0,178.2 143.9,180.2 140.3,181.7 137.0,182.8 134.7,183.4 133.9,183.5 134.3,186.3 135.3,187.1 137.7,187.2 141.1,186.6 144.6,185.0 147.7,182.6 149.6,179.7 150.0,176.7Z M151.8,187.5 151.2,189.6 149.2,191.8 146.1,193.7 142.5,195.3 139.2,196.4 136.9,196.9 136.1,197.0 136.5,199.8 137.5,200.6 139.9,200.8 143.3,200.1 146.9,198.6 149.9,196.2 151.8,193.3 152.2,190.3Z M154.0,201.1 154.0,201.9 153.7,202.7 153.2,203.6 153.8,207.5 154.3,206.3 154.5,205.1 154.4,203.9Z" fill="url(#gbh)" stroke="#2a2a2a" stroke-width="0.8" stroke-linejoin="round"/><path d="M129.4,156.0 130.0,154.8 132.2,153.8 135.6,153.3 139.5,153.6 143.2,155.0 145.9,157.2 147.3,160.0 147.8,163.5 146.7,161.8 144.1,160.5 140.5,159.7 136.6,159.3 133.1,159.3 130.8,159.4 129.9,159.5Z M131.6,169.6 132.2,168.4 134.5,167.3 137.8,166.8 141.7,167.2 145.4,168.5 148.2,170.7 149.5,173.6 150.0,177.1 148.9,175.3 146.3,174.0 142.7,173.2 138.8,172.9 135.4,172.9 133.0,173.0 132.2,173.0Z M133.8,183.1 134.5,181.9 136.7,180.9 140.1,180.4 144.0,180.8 147.6,182.1 150.4,184.3 151.7,187.2 152.3,190.6 151.1,188.9 148.5,187.6 144.9,186.8 141.0,186.4 137.6,186.4 135.2,186.5 134.4,186.6Z M136.0,196.7 136.7,195.5 138.9,194.5 142.3,194.0 146.2,194.3 149.8,195.7 152.6,197.9 153.9,200.7 154.5,204.2 153.3,202.5 150.7,201.2 147.2,200.4 143.3,200.0 139.8,200.0 137.4,200.1 136.6,200.2Z" fill="url(#gh)" stroke="#2a2a2a" stroke-width="0.8" stroke-linejoin="round"/><path d="M63.8,42.3 64.7,46.1 63.9,50.1 61.6,53.3 58.3,55.3 54.9,55.6 52.2,54.2 53.1,55.1 56.0,56.7 59.5,56.5 62.8,54.6 65.1,51.3 65.8,47.2 64.8,43.3Z M66.1,44.1 68.0,47.1 68.4,50.9 67.2,54.5 64.8,57.5 61.6,59.1 58.5,59.3 55.9,57.9 56.8,58.8 59.5,60.3 62.8,60.3 66.0,58.7 68.4,55.7 69.5,52.0 69.0,48.2 67.0,45.0Z M69.8,47.8 71.7,50.8 72.0,54.5 70.9,58.2 72.1,59.4 73.2,55.7 72.7,51.9 70.7,48.6Z" fill="url(#gbh)" stroke="#2a2a2a" stroke-width="0.8" stroke-linejoin="round"/><path d="M52.1,54.1 50.6,51.4 50.6,48.1 52.2,44.9 55.1,42.5 58.9,41.4 62.7,41.9 66.0,44.0 67.1,45.1 64.0,43.2 60.3,42.8 56.7,44.0 53.7,46.4 52.0,49.5 51.9,52.7 53.2,55.2Z M55.8,57.8 54.3,55.1 54.3,51.8 55.9,48.6 58.8,46.2 62.6,45.1 66.4,45.6 69.7,47.6 70.8,48.8 67.7,46.9 64.0,46.5 60.4,47.7 57.4,50.1 55.7,53.2 55.6,56.4 56.9,58.9Z" fill="url(#gh)" stroke="#2a2a2a" stroke-width="0.8" stroke-linejoin="round"/><path d="M80.5,67.4 78.1,69.5 75.2,70.5 72.5,70.1 70.6,68.6 71.3,69.5 73.3,71.2 76.1,71.7 79.0,70.8 81.4,68.7Z M83.6,62.8 84.7,65.7 84.4,68.8 83.0,71.6 80.6,73.6 77.8,74.5 75.1,74.1 73.3,72.6 73.9,73.5 75.9,75.2 78.6,75.7 81.4,74.9 83.8,72.9 85.3,70.0 85.4,66.8 84.3,63.8Z" fill="url(#gbh)" stroke="#2a2a2a" stroke-width="0.8" stroke-linejoin="round"/><path d="M70.6,68.5 69.7,66.0 70.3,63.3 72.1,61.0 74.9,59.5 78.1,59.3 81.2,60.4 83.5,62.7 84.3,63.9 82.1,61.8 79.1,60.8 76.0,61.1 73.2,62.6 71.3,64.8 70.7,67.4 71.4,69.7Z M73.2,72.4 72.4,70.0 72.9,67.4 74.7,65.1 75.7,66.7 73.9,68.9 73.3,71.4 74.0,73.6Z" fill="url(#gh)" stroke="#2a2a2a" stroke-width="0.8" stroke-linejoin="round"/><path d="M63.8,203.0 64.2,206.6 63.0,210.0 60.6,212.4 57.6,213.3 55.0,212.4 55.8,213.0 58.5,213.9 61.6,213.1 64.0,210.7 65.2,207.3 64.7,203.7Z M64.9,202.3 66.9,204.6 67.8,207.6 67.3,210.8 65.8,213.5 63.4,215.3 60.8,215.8 58.5,215.0 59.3,215.5 61.7,216.4 64.4,216.0 66.8,214.2 68.4,211.5 68.8,208.3 67.8,205.3 65.7,202.9Z M68.4,204.9 69.2,205.5 69.8,206.2 70.4,207.0 71.3,207.7 70.7,206.8 70.0,206.1 69.2,205.4Z" fill="url(#gbv)" stroke="#2a2a2a" stroke-width="0.8" stroke-linejoin="round"/><path d="M54.9,212.4 53.2,210.3 52.8,207.6 53.6,204.8 55.7,202.4 58.6,201.1 61.8,201.0 64.8,202.2 65.8,202.9 63.0,201.8 59.9,202.0 57.0,203.4 54.9,205.7 54.0,208.5 54.4,211.2 55.9,213.1Z M58.4,214.9 56.8,212.9 56.3,210.2 57.2,207.3 59.2,205.0 62.2,203.6 65.4,203.5 68.3,204.8 69.3,205.5 66.5,204.3 63.4,204.5 60.6,205.9 58.5,208.3 57.6,211.1 57.9,213.7 59.4,215.6Z" fill="url(#gv)" stroke="#2a2a2a" stroke-width="0.8" stroke-linejoin="round"/><path d="M147.2,196.4 150.9,199.1 153.3,203.6 153.6,209.0 152.0,213.9 148.9,217.1 145.1,218.1 146.3,218.2 150.4,217.3 153.7,214.0 155.4,209.1 155.0,203.8 152.5,199.2 148.5,196.5Z M149.3,196.4 153.1,197.9 156.0,201.2 157.5,205.8 157.3,210.7 155.5,214.9 152.5,217.7 149.0,218.5 150.2,218.6 154.0,217.9 157.1,215.1 159.0,210.9 159.2,206.0 157.7,201.4 154.5,198.0 150.4,196.5Z M153.1,196.8 157.0,198.2 159.9,201.6 161.4,206.2 161.2,211.1 159.4,215.3 156.4,218.1 152.9,218.8 154.1,219.0 157.8,218.2 161.0,215.5 162.9,211.3 163.1,206.4 161.5,201.8 158.4,198.4 154.3,196.9Z M157.0,197.1 160.9,198.6 163.8,202.0 165.3,206.6 165.0,211.5 163.2,215.7 160.3,218.5 156.8,219.2 158.0,219.4 161.7,218.6 164.9,215.9 166.8,211.6 167.0,206.7 165.4,202.1 162.3,198.8 158.2,197.3Z M160.9,197.5 164.7,199.0 167.7,202.4 169.1,207.0 168.9,211.9 167.1,216.1 164.2,218.9 160.7,219.6 161.8,219.7 165.6,219.0 168.8,216.3 170.7,212.0 170.9,207.1 169.3,202.5 166.2,199.2 162.1,197.7Z M164.8,197.9 168.2,199.1 170.9,201.7 172.6,205.4 174.3,205.6 172.5,201.9 169.6,199.2 166.0,198.0Z" fill="url(#gbv)" stroke="#2a2a2a" stroke-width="0.8" stroke-linejoin="round"/><path d="M145.0,218.1 141.4,216.6 138.8,213.3 137.8,208.7 138.5,203.9 141.0,199.7 144.8,197.0 149.1,196.4 150.6,196.5 146.6,197.2 143.1,199.9 140.7,204.1 140.0,209.0 140.9,213.5 143.2,216.8 146.5,218.2Z M148.9,218.4 145.3,217.0 142.7,213.7 141.7,209.1 142.4,204.3 144.9,200.1 148.7,197.4 153.0,196.7 154.5,196.9 150.4,197.6 146.9,200.3 144.6,204.5 143.8,209.3 144.7,213.9 147.1,217.2 150.3,218.6Z M152.7,218.8 149.2,217.4 146.6,214.1 145.5,209.5 146.3,204.7 148.8,200.5 152.5,197.8 156.9,197.1 158.4,197.3 154.3,198.0 150.8,200.7 148.5,204.9 147.7,209.7 148.6,214.3 151.0,217.6 154.2,219.0Z M156.6,219.2 153.1,217.8 150.5,214.4 149.4,209.9 150.2,205.1 152.7,200.9 156.4,198.2 160.8,197.5 162.2,197.7 158.2,198.4 154.7,201.1 152.4,205.3 151.6,210.1 152.5,214.6 154.8,217.9 158.1,219.4Z M160.5,219.6 156.9,218.2 154.3,214.8 153.3,210.3 154.1,205.4 156.5,201.3 160.3,198.6 164.6,197.9 166.1,198.1 162.1,198.7 158.6,201.5 156.2,205.7 155.5,210.5 156.4,215.0 158.7,218.3 162.0,219.8Z" fill="url(#gv)" stroke="#2a2a2a" stroke-width="0.8" stroke-linejoin="round"/></g><g><path d="M363.0,72.8 C365.3,75.1 372.7,82.2 376.7,86.5 C380.7,90.8 383.6,95.7 387.0,98.6 C390.4,101.5 395.0,101.8 397.3,103.7 C399.6,105.6 400.4,109.0 401.0,110.0" fill="none" stroke="#2a2a2a" stroke-width="2.4" stroke-linecap="round" stroke-linejoin="round"/><path d="M363.0,72.8 C365.3,75.1 372.7,82.2 376.7,86.5 C380.7,90.8 383.6,95.7 387.0,98.6 C390.4,101.5 395.0,101.8 397.3,103.7 C399.6,105.6 400.4,109.0 401.0,110.0" fill="none" stroke="#f6f6f6" stroke-width="1.0" stroke-linecap="round" stroke-linejoin="round"/><path d="M364.7,83.0 C365.2,84.5 366.9,88.8 368.0,91.7 C369.1,94.6 371.3,97.6 371.5,100.3 C371.7,103.0 369.8,106.7 369.4,108.0" fill="none" stroke="#2a2a2a" stroke-width="2.4" stroke-linecap="round" stroke-linejoin="round"/><path d="M364.7,83.0 C365.2,84.5 366.9,88.8 368.0,91.7 C369.1,94.6 371.3,97.6 371.5,100.3 C371.7,103.0 369.8,106.7 369.4,108.0" fill="none" stroke="#f6f6f6" stroke-width="1.0" stroke-linecap="round" stroke-linejoin="round"/><path d="M244.0,202.6 C245.2,204.2 248.8,210.0 251.2,212.0 C253.6,214.0 255.5,215.2 258.2,214.4 C260.9,213.6 266.0,208.6 267.6,207.4" fill="none" stroke="#2a2a2a" stroke-width="2.4" stroke-linecap="round" stroke-linejoin="round"/><path d="M244.0,202.6 C245.2,204.2 248.8,210.0 251.2,212.0 C253.6,214.0 255.5,215.2 258.2,214.4 C260.9,213.6 266.0,208.6 267.6,207.4" fill="none" stroke="#f6f6f6" stroke-width="1.0" stroke-linecap="round" stroke-linejoin="round"/><path d="M274.7,223.8 C275.9,225.0 278.7,230.1 281.8,230.9 C284.9,231.7 289.2,230.1 293.5,228.5 C297.8,226.9 305.2,222.7 307.6,221.5" fill="none" stroke="#2a2a2a" stroke-width="2.4" stroke-linecap="round" stroke-linejoin="round"/><path d="M274.7,223.8 C275.9,225.0 278.7,230.1 281.8,230.9 C284.9,231.7 289.2,230.1 293.5,228.5 C297.8,226.9 305.2,222.7 307.6,221.5" fill="none" stroke="#f6f6f6" stroke-width="1.0" stroke-linecap="round" stroke-linejoin="round"/><path d="M350.6,232.0 C351.2,234.6 351.3,245.6 354.0,247.4 C356.7,249.2 362.9,245.0 367.0,242.6 C371.1,240.2 376.8,234.8 378.8,233.2" fill="none" stroke="#2a2a2a" stroke-width="2.4" stroke-linecap="round" stroke-linejoin="round"/><path d="M350.6,232.0 C351.2,234.6 351.3,245.6 354.0,247.4 C356.7,249.2 362.9,245.0 367.0,242.6 C371.1,240.2 376.8,234.8 378.8,233.2" fill="none" stroke="#f6f6f6" stroke-width="1.0" stroke-linecap="round" stroke-linejoin="round"/><path d="M385.9,226.2 C387.8,227.8 393.7,233.2 397.6,235.6 C401.5,237.9 407.8,238.9 409.4,240.3 C411.0,241.7 407.4,243.4 407.0,244.0" fill="none" stroke="#2a2a2a" stroke-width="2.4" stroke-linecap="round" stroke-linejoin="round"/><path d="M385.9,226.2 C387.8,227.8 393.7,233.2 397.6,235.6 C401.5,237.9 407.8,238.9 409.4,240.3 C411.0,241.7 407.4,243.4 407.0,244.0" fill="none" stroke="#f6f6f6" stroke-width="1.0" stroke-linecap="round" stroke-linejoin="round"/><path d="M318.0,209.7 C319.5,208.5 324.0,203.2 327.0,202.6 C330.0,202.0 334.5,205.4 336.0,206.0" fill="none" stroke="#2a2a2a" stroke-width="2.4" stroke-linecap="round" stroke-linejoin="round"/><path d="M318.0,209.7 C319.5,208.5 324.0,203.2 327.0,202.6 C330.0,202.0 334.5,205.4 336.0,206.0" fill="none" stroke="#f6f6f6" stroke-width="1.0" stroke-linecap="round" stroke-linejoin="round"/><path d="M300.0,44.0 C301.0,43.3 303.0,40.0 306.0,40.0 C309.0,40.0 316.0,43.3 318.0,44.0" fill="none" stroke="#2a2a2a" stroke-width="2.4" stroke-linecap="round" stroke-linejoin="round"/><path d="M300.0,44.0 C301.0,43.3 303.0,40.0 306.0,40.0 C309.0,40.0 316.0,43.3 318.0,44.0" fill="none" stroke="#f6f6f6" stroke-width="1.0" stroke-linecap="round" stroke-linejoin="round"/><path d="M323.1,42.8 320.8,44.1 317.1,44.8 313.0,45.0 309.2,45.0 306.6,44.8 305.7,44.8 305.0,47.8 305.7,48.9 308.1,49.8 311.8,50.3 316.0,50.0 319.7,48.7 322.3,46.5Z M320.7,55.4 319.5,57.0 316.8,58.0 313.2,58.6 309.3,58.8 305.8,58.6 303.4,58.5 302.6,58.5 301.9,61.6 302.5,62.5 304.7,63.5 308.1,64.0 312.0,63.9 315.7,62.9 318.6,61.0 320.0,58.4Z M317.6,69.1 316.4,70.7 313.7,71.7 310.1,72.3 306.2,72.5 302.7,72.4 300.4,72.2 299.5,72.2 298.8,75.3 299.4,76.2 301.7,77.2 305.0,77.7 308.9,77.6 312.7,76.6 315.5,74.7 316.9,72.1Z" fill="url(#gbh)" stroke="#2a2a2a" stroke-width="0.8" stroke-linejoin="round"/><path d="M305.7,44.4 306.8,43.7 309.2,43.7 312.5,44.6 315.9,46.4 318.9,49.0 320.6,52.0 320.8,55.0 319.9,58.8 319.5,57.0 317.5,55.0 314.5,53.0 311.0,51.2 307.8,49.7 305.6,48.8 304.9,48.2Z M302.7,58.2 303.7,57.4 306.1,57.4 309.4,58.3 312.9,60.1 315.8,62.7 317.5,65.7 317.7,68.7 316.8,72.5 316.4,70.7 314.4,68.7 311.4,66.7 307.9,64.9 304.7,63.4 302.5,62.5 301.8,61.9Z M299.6,71.9 300.8,71.1 303.5,71.2 307.2,72.4 310.9,74.6 313.6,77.7 314.7,81.0 313.7,85.4 312.4,83.3 309.4,81.1 305.7,79.0 302.2,77.4 299.6,76.2 298.7,75.6Z" fill="url(#gh)" stroke="#2a2a2a" stroke-width="0.8" stroke-linejoin="round"/><path d="M328.2,36.5 325.7,38.5 324.0,40.8 323.6,43.4 323.7,46.4 324.2,44.7 325.9,43.0 328.4,41.6Z M340.8,49.5 339.9,48.5 337.6,48.0 334.2,48.3 330.4,49.4 327.1,51.4 324.9,54.1 324.1,57.1 324.3,60.1 325.0,58.1 327.3,56.2 330.7,54.7 334.4,53.5 337.8,52.8 340.1,52.5 341.0,52.5Z M341.4,63.2 340.5,62.3 338.2,61.8 334.8,62.0 331.0,63.2 327.7,65.2 325.5,67.8 324.7,70.8 324.9,73.8 325.6,71.8 327.9,70.0 331.3,68.4 335.0,67.3 338.4,66.6 340.7,66.3 341.6,66.2Z M342.0,77.0 341.1,76.0 338.8,75.5 335.4,75.8 331.6,76.9 328.3,78.9 326.1,81.6 325.3,84.6 325.5,87.6 326.2,85.6 328.5,83.7 331.9,82.1 335.6,81.0 339.0,80.3 341.3,80.0 342.2,80.0Z" fill="url(#gbh)" stroke="#2a2a2a" stroke-width="0.8" stroke-linejoin="round"/><path d="M323.5,43.0 324.5,44.8 326.9,46.3 330.3,47.6 334.2,48.4 337.6,48.8 340.0,49.0 340.8,49.1 341.0,52.9 340.2,54.0 337.9,54.8 334.5,54.9 330.6,54.1 327.1,52.3 324.7,49.8 323.7,46.8Z M324.1,56.7 325.1,58.5 327.5,60.1 330.9,61.3 334.8,62.1 338.2,62.6 340.6,62.8 341.4,62.8 341.6,66.6 340.8,67.8 338.5,68.6 335.1,68.7 331.2,67.8 327.7,66.1 325.3,63.5 324.3,60.5Z M324.7,70.4 325.6,72.2 328.1,73.8 331.5,75.0 335.4,75.8 338.8,76.3 341.2,76.5 342.0,76.6 342.2,80.4 341.4,81.5 339.1,82.3 335.6,82.4 331.8,81.6 328.3,79.8 325.9,77.3 324.9,74.2Z M325.3,84.2 325.9,85.6 327.5,86.9 329.8,88.0 330.1,94.3 327.7,92.5 326.1,90.4 325.5,88.0Z" fill="url(#gh)" stroke="#2a2a2a" stroke-width="0.8" stroke-linejoin="round"/><path d="M351.5,43.2 347.9,44.2 344.7,44.8 342.4,44.9 341.6,44.7 341.8,47.6 342.6,48.7 344.9,49.3 348.1,49.2 351.8,48.2Z M358.9,50.5 358.2,52.7 355.9,54.7 352.6,56.4 348.9,57.5 345.5,58.1 343.1,58.2 342.3,58.0 342.4,61.0 343.3,62.1 345.7,62.7 349.1,62.6 352.9,61.4 356.2,59.3 358.4,56.6 359.1,53.4Z M359.6,63.9 358.9,66.1 356.6,68.1 353.3,69.8 349.6,70.9 346.2,71.5 343.8,71.6 343.0,71.4 343.1,74.4 344.0,75.5 346.4,76.1 349.8,75.9 353.5,74.8 356.8,72.7 359.1,69.9 359.8,66.8Z M360.3,77.3 359.6,79.4 357.3,81.4 354.0,83.1 354.3,88.1 357.6,86.1 359.7,83.3 360.4,80.2Z" fill="url(#gbh)" stroke="#2a2a2a" stroke-width="0.8" stroke-linejoin="round"/><path d="M341.6,44.3 342.4,43.0 344.7,42.0 348.1,41.8 351.9,42.6 355.4,44.3 357.9,47.0 358.9,50.1 359.1,53.8 358.2,51.8 355.7,50.1 352.2,48.9 348.4,48.1 345.0,47.8 342.6,47.8 341.8,48.0Z M342.3,57.7 343.0,56.3 345.4,55.4 348.8,55.2 352.6,55.9 356.1,57.7 358.6,60.4 359.6,63.5 359.8,67.2 358.8,65.2 356.4,63.5 352.9,62.2 349.1,61.5 345.7,61.2 343.3,61.2 342.5,61.4Z M342.9,71.1 343.7,69.7 346.0,68.8 349.4,68.6 353.3,69.3 356.8,71.1 359.3,73.7 360.3,76.9 360.4,80.6 359.5,78.6 357.1,76.9 353.6,75.6 349.7,74.9 346.3,74.5 344.0,74.6 343.1,74.7Z" fill="url(#gh)" stroke="#2a2a2a" stroke-width="0.8" stroke-linejoin="round"/><path d="M267.5,77.8 264.1,77.9 260.3,78.7 256.8,80.2 254.3,82.4 253.3,85.0 253.1,88.2 254.1,86.6 256.5,85.3 260.0,84.2 263.8,83.4 267.2,82.8Z M269.9,93.2 269.1,92.5 266.7,92.1 263.3,92.2 259.5,93.0 256.0,94.5 253.5,96.7 252.5,99.3 252.3,102.5 253.2,100.9 255.7,99.6 259.1,98.5 263.0,97.7 266.4,97.1 268.8,96.7 269.7,96.3Z M269.0,107.5 268.2,106.8 265.9,106.4 262.5,106.4 258.6,107.2 255.1,108.8 252.6,111.0 251.6,113.6 251.4,116.7 252.4,115.2 254.8,113.9 258.3,112.8 262.1,112.0 265.6,111.4 268.0,111.0 268.8,110.6Z M268.2,121.7 267.4,121.1 265.0,120.6 261.6,120.7 257.8,121.5 254.3,123.1 251.8,125.3 250.8,127.9 250.6,131.0 251.5,129.5 254.0,128.1 257.5,127.1 261.3,126.3 264.7,125.7 267.1,125.3 268.0,124.9Z M267.3,136.0 266.5,135.4 264.2,134.9 260.8,135.0 256.9,135.8 253.4,137.4 250.9,139.6 249.9,142.2 249.8,145.3 250.7,143.8 253.1,142.4 256.6,141.3 260.5,140.5 263.9,140.0 266.3,139.6 267.2,139.2Z" fill="url(#gbh)" stroke="#2a2a2a" stroke-width="0.8" stroke-linejoin="round"/><path d="M253.3,84.6 254.1,86.1 256.4,87.7 259.7,89.1 263.4,90.3 266.8,91.3 269.1,92.1 269.9,92.8 269.6,96.7 268.8,97.4 266.4,97.7 263.0,97.2 259.3,96.0 256.0,94.0 253.8,91.4 253.1,88.6Z M252.5,98.9 253.2,100.4 255.5,101.9 258.8,103.4 262.6,104.6 265.9,105.6 268.2,106.4 269.0,107.1 268.8,111.0 267.9,111.7 265.5,111.9 262.2,111.5 258.4,110.3 255.1,108.3 252.9,105.7 252.3,102.8Z M251.6,113.2 252.4,114.7 254.7,116.2 258.0,117.6 261.7,118.9 265.1,119.9 267.4,120.7 268.2,121.3 268.0,125.3 267.1,126.0 264.7,126.2 261.3,125.8 257.6,124.6 254.3,122.5 252.1,120.0 251.4,117.1Z M250.8,127.5 251.6,129.0 253.8,130.5 257.2,131.9 260.9,133.2 264.2,134.2 266.6,135.0 267.4,135.6 267.1,139.6 266.2,140.3 263.9,140.5 260.5,140.1 256.8,138.8 253.5,136.8 251.3,134.3 250.6,131.4Z M250.0,141.8 250.9,143.5 253.8,145.2 257.8,146.7 261.9,148.0 265.1,149.0 264.7,154.7 261.5,154.7 257.4,153.7 253.4,151.7 250.6,148.9 249.7,145.7Z" fill="url(#gh)" stroke="#2a2a2a" stroke-width="0.8" stroke-linejoin="round"/><path d="M279.5,76.6 276.9,77.0 275.1,77.2 274.5,77.2 274.6,80.2 275.2,81.1 277.0,81.6 279.6,81.7Z M291.7,83.6 290.9,85.6 288.6,87.4 285.2,89.0 281.5,90.0 278.1,90.7 275.7,90.9 274.9,91.0 275.0,94.0 275.9,94.9 278.2,95.5 281.6,95.3 285.4,94.2 288.7,92.2 291.0,89.6 291.8,86.7Z M292.1,97.4 291.3,99.4 289.0,101.2 285.6,102.7 281.9,103.8 278.5,104.4 276.1,104.7 275.3,104.7 275.4,107.7 276.2,108.7 278.6,109.2 282.0,109.0 285.8,107.9 289.1,106.0 291.4,103.4 292.2,100.4Z M292.5,111.1 291.7,113.1 289.4,114.9 286.0,116.4 282.2,117.5 278.8,118.2 276.5,118.4 275.6,118.4 275.7,121.5 276.6,122.4 279.0,123.0 282.4,122.8 286.1,121.7 289.5,119.7 291.8,117.1 292.5,114.1Z M292.8,124.9 292.0,126.8 289.7,128.7 286.4,130.2 282.6,131.3 279.2,131.9 276.9,132.2 276.0,132.2 276.1,135.2 277.0,136.2 279.3,136.7 282.7,136.5 286.5,135.4 289.9,133.5 292.1,130.8 292.9,127.9Z M293.2,138.6 292.1,140.9 289.1,143.0 284.9,144.5 280.6,145.5 277.5,145.9 276.4,145.9 276.5,149.0 277.6,150.0 280.8,150.5 285.0,149.8 289.2,148.0 292.2,145.1 293.3,141.6Z" fill="url(#gbh)" stroke="#2a2a2a" stroke-width="0.8" stroke-linejoin="round"/><path d="M274.5,76.8 275.3,75.7 277.7,74.9 281.1,74.9 284.9,75.8 288.3,77.6 290.8,80.2 291.7,83.2 291.8,87.0 290.9,85.2 288.5,83.6 285.1,82.3 281.3,81.5 277.8,80.9 275.5,80.7 274.6,80.6Z M274.9,90.6 275.7,89.4 278.0,88.7 281.4,88.7 285.3,89.5 288.7,91.3 291.1,93.9 292.1,97.0 292.2,100.8 291.3,99.0 288.9,97.3 285.4,96.1 281.6,95.2 278.2,94.7 275.8,94.5 275.0,94.4Z M275.3,104.3 276.1,103.2 278.4,102.4 281.8,102.4 285.6,103.3 289.1,105.1 291.5,107.7 292.4,110.7 292.5,114.5 291.7,112.7 289.2,111.1 285.8,109.8 282.0,108.9 278.6,108.4 276.2,108.2 275.4,108.1Z M275.6,118.1 276.4,116.9 278.8,116.2 282.2,116.1 286.0,117.0 289.5,118.8 291.9,121.4 292.8,124.5 292.9,128.3 292.0,126.4 289.6,124.8 286.2,123.6 282.4,122.7 278.9,122.2 276.6,121.9 275.7,121.8Z M276.0,131.8 276.8,130.7 279.2,129.9 282.6,129.9 286.4,130.8 289.8,132.6 292.3,135.2 293.2,138.2 293.3,142.0 292.4,140.2 290.0,138.6 286.5,137.3 282.7,136.4 279.3,135.9 277.0,135.7 276.1,135.6Z M276.4,145.6 277.1,144.5 279.2,143.7 282.4,143.6 282.5,150.1 279.4,149.6 277.2,149.4 276.5,149.3Z" fill="url(#gh)" stroke="#2a2a2a" stroke-width="0.8" stroke-linejoin="round"/><path d="M313.4,83.6 311.8,82.5 308.6,82.1 304.4,82.9 300.5,84.9 297.6,87.9 296.7,91.4 296.9,94.3 297.8,91.9 300.7,89.7 304.7,88.0 308.8,87.0 312.0,86.7 313.5,86.8Z M314.0,97.3 313.1,96.2 310.8,95.5 307.3,95.7 303.6,96.8 300.3,98.9 298.1,101.7 297.4,104.8 297.5,107.7 298.2,105.5 300.5,103.5 303.9,101.9 307.6,100.7 311.0,100.2 313.3,100.0 314.2,100.2Z M314.7,110.7 313.8,109.5 311.4,108.9 308.0,109.1 304.2,110.2 300.9,112.3 298.7,115.0 298.0,118.2 298.1,121.1 298.9,118.9 301.1,116.9 304.5,115.3 308.2,114.1 311.6,113.5 314.0,113.4 314.8,113.6Z M315.3,124.1 314.4,122.9 312.0,122.3 308.6,122.5 304.9,123.6 301.6,125.7 299.3,128.4 298.6,131.5 298.8,134.5 299.5,132.3 301.8,130.3 305.1,128.6 308.8,127.5 312.2,126.9 314.6,126.8 315.4,127.0Z M315.9,137.4 315.0,136.3 312.6,135.7 309.2,135.8 305.5,137.0 302.2,139.0 299.9,141.8 299.3,144.9 299.4,147.9 300.1,145.7 302.4,143.7 305.7,142.0 309.5,140.9 312.9,140.3 315.2,140.2 316.1,140.4Z" fill="url(#gbh)" stroke="#2a2a2a" stroke-width="0.8" stroke-linejoin="round"/><path d="M296.7,91.0 297.7,93.0 300.1,94.7 303.6,96.0 307.4,96.8 310.8,97.1 313.2,97.1 314.0,96.9 314.2,100.6 313.4,101.9 311.1,102.9 307.7,103.1 303.9,102.3 300.4,100.5 297.9,97.9 296.9,94.7Z M297.4,104.4 298.3,106.4 300.7,108.1 304.2,109.4 308.0,110.2 311.5,110.5 313.8,110.5 314.6,110.3 314.8,114.0 314.0,115.3 311.7,116.3 308.3,116.5 304.5,115.7 301.0,113.9 298.5,111.3 297.5,108.1Z M298.0,117.8 298.9,119.8 301.4,121.5 304.8,122.8 308.7,123.5 312.1,123.9 314.4,123.8 315.3,123.7 315.4,127.4 314.7,128.7 312.4,129.6 308.9,129.8 305.1,129.1 301.6,127.3 299.1,124.6 298.2,121.5Z M298.6,131.2 299.5,133.2 302.0,134.9 305.5,136.2 309.3,136.9 312.7,137.2 315.1,137.2 315.9,137.1 316.1,140.8 315.3,142.1 313.0,143.0 309.6,143.2 305.8,142.5 302.3,140.7 299.8,138.0 298.8,134.9Z M299.2,144.6 300.3,146.6 302.9,148.4 306.6,149.7 310.6,150.4 310.9,156.6 306.9,156.0 303.2,154.2 300.5,151.5 299.4,148.2Z" fill="url(#gh)" stroke="#2a2a2a" stroke-width="0.8" stroke-linejoin="round"/><path d="M329.0,91.4 325.1,92.9 321.4,94.1 318.7,95.0 317.8,95.5 318.0,98.7 319.1,99.3 321.8,99.3 325.6,98.5 329.5,96.8Z M335.3,101.3 334.6,102.9 332.4,104.6 329.1,106.2 325.4,107.5 322.1,108.5 319.8,109.3 319.0,109.8 319.2,112.9 320.1,113.5 322.5,113.6 325.9,113.0 329.5,111.7 332.8,109.6 334.9,107.1 335.6,104.4Z M336.5,115.5 335.8,117.2 333.6,118.9 330.3,120.4 326.6,121.7 323.2,122.8 320.9,123.5 320.1,124.1 320.4,127.2 321.3,127.7 323.7,127.8 327.0,127.3 330.7,125.9 334.0,123.9 336.1,121.4 336.8,118.7Z M337.7,129.8 337.0,131.4 334.7,133.1 331.5,134.7 327.8,136.0 324.4,137.0 322.1,137.8 321.3,138.3 321.6,141.5 322.5,142.0 324.9,142.1 328.2,141.5 331.9,140.2 335.2,138.2 337.3,135.6 337.9,132.9Z" fill="url(#gbh)" stroke="#2a2a2a" stroke-width="0.8" stroke-linejoin="round"/><path d="M317.7,95.2 318.5,94.3 320.8,93.7 324.2,93.7 328.1,94.4 331.6,95.9 334.2,98.2 335.3,100.9 335.6,104.8 334.6,103.4 332.2,102.2 328.7,101.3 324.8,100.6 321.4,100.1 318.9,99.6 318.1,99.1Z M318.9,109.4 319.7,108.6 322.0,108.0 325.4,107.9 329.3,108.7 332.8,110.2 335.4,112.4 336.5,115.1 336.8,119.1 335.8,117.7 333.4,116.5 329.9,115.6 326.0,114.9 322.5,114.3 320.1,113.8 319.2,113.3Z M320.1,123.7 320.9,122.9 323.2,122.3 326.6,122.2 330.5,122.9 334.0,124.4 336.6,126.7 337.6,129.4 338.0,133.3 337.0,131.9 334.5,130.7 331.0,129.8 327.2,129.1 323.7,128.6 321.3,128.1 320.4,127.6Z M321.3,137.9 321.3,137.7 321.5,137.5 321.8,137.3 322.2,142.3 321.9,142.1 321.7,142.0 321.6,141.9Z" fill="url(#gh)" stroke="#2a2a2a" stroke-width="0.8" stroke-linejoin="round"/><path d="M248.2,136.7 244.9,137.9 242.1,139.7 240.3,141.9 239.6,144.5 239.6,147.4 240.3,145.7 242.1,144.2 244.9,142.8 248.2,141.8Z M255.6,152.0 254.8,151.3 252.6,151.1 249.4,151.4 245.8,152.4 242.6,154.3 240.4,156.7 239.6,159.5 239.6,162.3 240.4,160.5 242.6,158.9 245.8,157.5 249.4,156.4 252.6,155.7 254.8,155.2 255.6,154.9Z M255.6,167.0 254.8,166.3 252.6,166.0 249.4,166.4 245.8,167.4 242.6,169.3 240.4,171.7 239.6,174.4 239.6,177.3 240.4,175.5 242.6,173.9 245.8,172.5 249.4,171.4 252.6,170.7 254.8,170.2 255.6,169.8Z M255.6,181.9 254.8,181.3 252.6,181.0 249.4,181.3 245.8,182.4 242.6,184.2 240.4,186.7 239.6,189.4 239.6,192.3 240.4,190.5 242.6,188.9 245.8,187.5 249.4,186.4 252.6,185.6 254.8,185.2 255.6,184.8Z M255.6,196.9 254.7,196.3 252.3,196.0 248.8,196.4 245.1,197.7 241.9,199.8 241.9,204.2 245.1,202.7 248.8,201.5 252.3,200.7 254.7,200.2 255.6,199.8Z" fill="url(#gbh)" stroke="#2a2a2a" stroke-width="0.8" stroke-linejoin="round"/><path d="M239.6,144.1 240.4,145.8 242.6,147.4 245.8,148.7 249.4,149.8 252.6,150.6 254.8,151.2 255.6,151.6 255.6,155.2 254.8,156.0 252.6,156.3 249.4,156.1 245.8,155.0 242.6,153.1 240.4,150.6 239.6,147.7Z M239.6,159.1 240.4,160.8 242.6,162.4 245.8,163.7 249.4,164.8 252.6,165.6 254.8,166.1 255.6,166.6 255.6,170.2 254.8,170.9 252.6,171.3 249.4,171.1 245.8,170.0 242.6,168.1 240.4,165.6 239.6,162.7Z M239.6,174.1 240.4,175.8 242.6,177.3 245.8,178.7 249.4,179.8 252.6,180.6 254.8,181.1 255.6,181.6 255.6,185.2 254.8,185.9 252.6,186.3 249.4,186.1 245.8,185.0 242.6,183.1 240.4,180.6 239.6,177.7Z M239.6,189.1 240.4,190.8 242.6,192.3 245.8,193.7 249.4,194.7 252.6,195.5 254.8,196.1 255.6,196.6 255.6,200.2 254.8,200.9 252.6,201.3 249.4,201.0 245.8,200.0 242.6,198.1 240.4,195.6 239.6,192.7Z" fill="url(#gh)" stroke="#2a2a2a" stroke-width="0.8" stroke-linejoin="round"/><path d="M278.0,145.7 277.7,145.6 277.6,145.4 277.5,145.3 277.5,148.1 277.6,148.5 277.7,148.9 278.0,149.3Z M295.5,151.8 294.6,154.2 292.1,156.4 288.5,158.0 284.5,158.9 280.9,159.1 278.4,158.9 277.5,158.3 277.5,161.1 278.4,162.6 280.9,163.6 284.5,163.7 288.5,162.8 292.1,160.8 294.6,158.0 295.5,154.6Z M295.5,164.8 294.6,167.2 292.1,169.3 288.5,170.9 284.5,171.9 280.9,172.1 278.4,171.8 277.5,171.3 277.5,174.1 278.4,175.6 280.9,176.6 284.5,176.7 288.5,175.8 292.1,173.8 294.6,170.9 295.5,167.6Z M295.5,177.8 294.6,180.2 292.1,182.3 288.5,183.9 284.5,184.9 280.9,185.1 278.4,184.8 277.5,184.2 277.5,187.1 278.4,188.6 280.9,189.6 284.5,189.7 288.5,188.8 292.1,186.8 294.6,183.9 295.5,180.6Z" fill="url(#gbh)" stroke="#2a2a2a" stroke-width="0.8" stroke-linejoin="round"/><path d="M277.5,144.9 278.4,143.3 280.9,142.3 284.5,142.1 288.5,143.0 292.1,145.1 294.6,148.0 295.5,151.4 295.5,155.0 294.6,152.7 292.1,150.6 288.5,149.1 284.5,148.1 280.9,147.8 278.4,148.0 277.5,148.5Z M277.5,157.9 278.4,156.3 280.9,155.3 284.5,155.1 288.5,156.0 292.1,158.0 294.6,161.0 295.5,164.4 295.5,168.0 294.6,165.6 292.1,163.6 288.5,162.0 284.5,161.1 280.9,160.8 278.4,161.0 277.5,161.5Z M277.5,170.9 278.4,169.3 280.9,168.2 284.5,168.1 288.5,169.0 292.1,171.0 294.6,174.0 295.5,177.4 295.5,181.0 294.6,178.6 292.1,176.6 288.5,175.0 284.5,174.1 280.9,173.8 278.4,174.0 277.5,174.5Z M277.5,183.9 278.7,182.1 282.0,181.1 286.5,181.4 291.0,183.2 291.0,189.0 286.5,187.5 282.0,186.8 278.7,186.9 277.5,187.5Z" fill="url(#gh)" stroke="#2a2a2a" stroke-width="0.8" stroke-linejoin="round"/><path d="M315.0,135.8 311.6,135.4 307.2,136.0 302.9,137.8 299.7,140.6 298.6,144.0 298.6,147.1 299.7,144.8 302.9,142.8 307.2,141.3 311.6,140.4 315.0,140.1Z M316.6,150.9 315.7,149.9 313.2,149.2 309.6,149.3 305.6,150.2 302.0,152.1 299.5,154.8 298.6,157.8 298.6,160.8 299.5,158.8 302.0,156.9 305.6,155.5 309.6,154.5 313.2,154.0 315.7,153.9 316.6,153.9Z M316.6,164.7 315.7,163.6 313.2,162.9 309.6,163.0 305.6,164.0 302.0,165.9 299.5,168.5 298.6,171.5 298.6,174.6 299.5,172.5 302.0,170.7 305.6,169.2 309.6,168.2 313.2,167.7 315.7,167.6 316.6,167.7Z M316.6,178.4 315.7,177.3 313.2,176.7 309.6,176.7 305.6,177.7 302.0,179.6 299.5,182.3 298.6,185.3 298.6,188.3 299.5,186.3 302.0,184.4 305.6,183.0 309.6,182.0 313.2,181.5 315.7,181.4 316.6,181.4Z M316.6,192.2 315.7,191.1 313.2,190.4 309.6,190.5 305.6,191.5 302.0,193.4 299.5,196.0 298.6,199.0 298.6,202.1 299.5,200.0 302.0,198.2 305.6,196.7 309.6,195.7 313.2,195.2 315.7,195.1 316.6,195.2Z M316.6,205.9 315.4,204.7 312.1,204.1 307.6,204.6 303.1,206.4 299.8,209.3 298.6,212.8 298.6,215.8 299.8,213.4 303.1,211.4 307.6,209.9 312.1,209.1 315.4,208.9 316.6,208.9Z" fill="url(#gbh)" stroke="#2a2a2a" stroke-width="0.8" stroke-linejoin="round"/><path d="M298.6,143.7 299.5,145.6 302.0,147.3 305.6,148.7 309.6,149.7 313.2,150.3 315.7,150.5 316.6,150.5 316.6,154.3 315.7,155.5 313.2,156.3 309.6,156.3 305.6,155.3 302.0,153.3 299.5,150.6 298.6,147.5Z M298.6,157.4 299.5,159.3 302.0,161.1 305.6,162.5 309.6,163.5 313.2,164.0 315.7,164.3 316.6,164.3 316.6,168.1 315.7,169.3 313.2,170.0 309.6,170.0 305.6,169.0 302.0,167.1 299.5,164.4 298.6,161.2Z M298.6,171.2 299.5,173.1 302.0,174.8 305.6,176.2 309.6,177.2 313.2,177.8 315.7,178.0 316.6,178.0 316.6,181.8 315.7,183.0 313.2,183.8 309.6,183.8 305.6,182.8 302.0,180.8 299.5,178.1 298.6,174.9Z M298.6,184.9 299.5,186.8 302.0,188.6 305.6,190.0 309.6,191.0 313.2,191.5 315.7,191.8 316.6,191.8 316.6,195.6 315.7,196.8 313.2,197.5 309.6,197.5 305.6,196.5 302.0,194.6 299.5,191.9 298.6,188.7Z M298.6,198.7 299.5,200.6 302.0,202.3 305.6,203.7 309.6,204.7 313.2,205.3 315.7,205.5 316.6,205.5 316.6,209.3 315.7,210.5 313.2,211.3 309.6,211.3 305.6,210.3 302.0,208.3 299.5,205.6 298.6,202.4Z M298.6,212.4 298.7,212.9 298.8,213.3 299.1,213.8 299.1,218.5 298.8,217.7 298.7,217.0 298.6,216.2Z" fill="url(#gh)" stroke="#2a2a2a" stroke-width="0.8" stroke-linejoin="round"/><path d="M329.8,104.4 326.2,105.0 323.7,105.4 322.8,105.6 322.8,108.6 323.7,109.5 326.2,110.0 329.8,109.8Z M340.8,112.8 339.9,114.7 337.4,116.4 333.8,117.8 329.8,118.9 326.2,119.5 323.7,119.9 322.8,120.1 322.8,123.2 323.7,124.0 326.2,124.5 329.8,124.3 333.8,123.2 337.4,121.4 339.9,118.8 340.8,115.9Z M340.8,127.3 339.9,129.2 337.4,130.9 333.8,132.4 329.8,133.4 326.2,134.1 323.7,134.4 322.8,134.6 322.8,137.7 323.7,138.5 326.2,139.0 329.8,138.8 333.8,137.8 337.4,135.9 339.9,133.3 340.8,130.4Z M340.8,141.9 339.9,143.7 337.4,145.5 333.8,146.9 329.8,147.9 326.2,148.6 323.7,148.9 322.8,149.1 322.8,152.2 323.7,153.0 326.2,153.5 329.8,153.3 333.8,152.3 337.4,150.4 339.9,147.9 340.8,144.9Z M340.8,156.4 339.9,158.3 337.4,160.0 333.8,161.4 329.8,162.4 326.2,163.1 323.7,163.4 322.8,163.6 322.8,166.7 323.7,167.6 326.2,168.0 329.8,167.8 333.8,166.8 337.4,164.9 339.9,162.4 340.8,159.5Z M340.8,170.9 339.6,173.1 336.3,175.0 331.8,176.5 327.3,177.4 324.0,177.9 322.8,178.2 322.8,181.2 324.0,182.2 327.3,182.6 331.8,181.9 336.3,180.2 339.6,177.4 340.8,174.0Z M340.8,185.4 339.9,187.3 337.4,189.0 333.8,190.4 329.8,191.5 326.2,192.1 323.7,192.5 322.8,192.7 322.8,195.8 323.7,196.6 326.2,197.1 329.8,196.9 333.8,195.8 337.4,194.0 339.9,191.4 340.8,188.5Z" fill="url(#gbh)" stroke="#2a2a2a" stroke-width="0.8" stroke-linejoin="round"/><path d="M322.8,105.2 323.7,104.2 326.2,103.6 329.8,103.8 333.8,104.8 337.4,106.7 339.9,109.4 340.8,112.4 340.8,116.3 339.9,114.5 337.4,112.9 333.8,111.6 329.8,110.5 326.2,109.8 323.7,109.3 322.8,109.0Z M322.8,119.7 323.7,118.7 326.2,118.1 329.8,118.3 333.8,119.3 337.4,121.3 339.9,123.9 340.8,126.9 340.8,130.8 339.9,129.1 337.4,127.4 333.8,126.1 329.8,125.0 326.2,124.3 323.7,123.9 322.8,123.6Z M322.8,134.2 323.7,133.2 326.2,132.7 329.8,132.8 333.8,133.8 337.4,135.8 339.9,138.4 340.8,141.5 340.8,145.3 339.9,143.6 337.4,142.0 333.8,140.6 329.8,139.6 326.2,138.8 323.7,138.4 322.8,138.1Z M322.8,148.7 323.7,147.8 326.2,147.2 329.8,147.3 333.8,148.4 337.4,150.3 339.9,152.9 340.8,156.0 340.8,159.9 339.9,158.1 337.4,156.5 333.8,155.1 329.8,154.1 326.2,153.4 323.7,152.9 322.8,152.6Z M322.8,163.2 323.7,162.3 326.2,161.7 329.8,161.8 333.8,162.9 337.4,164.8 339.9,167.5 340.8,170.5 340.8,174.4 339.9,172.6 337.4,171.0 333.8,169.6 329.8,168.6 326.2,167.9 323.7,167.4 322.8,167.1Z M322.8,177.8 323.7,176.8 326.2,176.2 329.8,176.4 333.8,177.4 337.4,179.3 339.9,182.0 340.8,185.0 340.8,188.9 339.9,187.1 337.4,185.5 333.8,184.2 329.8,183.1 326.2,182.4 323.7,181.9 322.8,181.6Z M322.8,192.3 323.5,191.4 325.5,190.8 328.6,190.7 328.6,197.4 325.5,196.8 323.5,196.4 322.8,196.2Z" fill="url(#gh)" stroke="#2a2a2a" stroke-width="0.8" stroke-linejoin="round"/><path d="M341.9,103.3 341.7,103.9 341.6,104.5 341.6,105.1 341.6,107.9 341.6,107.5 341.7,107.0 341.9,106.6Z M359.6,111.8 358.7,110.4 356.2,109.4 352.6,109.3 348.6,110.3 345.0,112.3 342.5,115.2 341.6,118.5 341.6,121.4 342.5,118.9 345.0,116.7 348.6,115.1 352.6,114.1 356.2,113.8 358.7,114.1 359.6,114.7Z M359.6,125.2 358.7,123.8 356.2,122.8 352.6,122.7 348.6,123.7 345.0,125.7 342.5,128.6 341.6,131.9 341.6,134.8 342.5,132.3 345.0,130.1 348.6,128.5 352.6,127.6 356.2,127.3 358.7,127.5 359.6,128.1Z M359.6,138.6 358.7,137.2 356.2,136.3 352.6,136.1 348.6,137.1 345.0,139.1 342.5,142.0 341.6,145.4 341.6,148.2 342.5,145.7 345.0,143.6 348.6,141.9 352.6,141.0 356.2,140.7 358.7,140.9 359.6,141.5Z M359.6,152.1 358.7,150.6 356.2,149.7 352.6,149.6 348.6,150.5 345.0,152.6 342.5,155.4 341.6,158.8 341.6,161.6 342.5,159.2 345.0,157.0 348.6,155.4 352.6,154.4 356.2,154.1 358.7,154.4 359.6,154.9Z M359.6,165.5 358.4,163.9 355.1,163.0 350.6,163.3 346.1,165.2 342.8,168.3 341.6,172.2 341.6,175.1 342.8,172.2 346.1,169.8 350.6,168.2 355.1,167.6 358.4,167.7 359.6,168.4Z M359.6,178.9 358.7,177.5 356.2,176.5 352.6,176.4 348.6,177.4 345.0,179.4 342.5,182.3 341.6,185.6 341.6,188.5 342.5,186.0 345.0,183.8 348.6,182.2 352.6,181.3 356.2,181.0 358.7,181.2 359.6,181.8Z M359.6,192.3 358.6,190.8 355.7,189.9 351.6,190.0 347.3,191.4 343.8,193.9 341.8,197.3 341.8,200.7 343.8,198.1 347.3,196.1 351.6,194.8 355.7,194.4 358.6,194.6 359.6,195.2Z" fill="url(#gbh)" stroke="#2a2a2a" stroke-width="0.8" stroke-linejoin="round"/><path d="M341.6,104.7 342.5,107.1 345.0,109.2 348.6,110.8 352.6,111.7 356.2,112.1 358.7,111.9 359.6,111.4 359.6,115.0 358.7,116.6 356.2,117.6 352.6,117.8 348.6,116.8 345.0,114.7 342.5,111.8 341.6,108.3Z M341.6,118.2 342.5,120.5 345.0,122.6 348.6,124.2 352.6,125.1 356.2,125.5 358.7,125.3 359.6,124.9 359.6,128.4 358.7,130.0 356.2,131.0 352.6,131.2 348.6,130.2 345.0,128.2 342.5,125.2 341.6,121.7Z M341.6,131.6 342.5,133.9 345.0,136.0 348.6,137.6 352.6,138.6 356.2,138.9 358.7,138.7 359.6,138.3 359.6,141.9 358.7,143.4 356.2,144.5 352.6,144.6 348.6,143.6 345.0,141.6 342.5,138.6 341.6,135.1Z M341.6,145.0 342.5,147.4 345.0,149.4 348.6,151.0 352.6,152.0 356.2,152.3 358.7,152.2 359.6,151.7 359.6,155.3 358.7,156.8 356.2,157.9 352.6,158.0 348.6,157.1 345.0,155.0 342.5,152.0 341.6,148.6Z M341.6,158.4 342.5,160.8 345.0,162.9 348.6,164.5 352.6,165.4 356.2,165.7 358.7,165.6 359.6,165.1 359.6,168.7 358.7,170.3 356.2,171.3 352.6,171.5 348.6,170.5 345.0,168.4 342.5,165.5 341.6,162.0Z M341.6,171.8 342.5,174.2 345.0,176.3 348.6,177.9 352.6,178.8 356.2,179.2 358.7,179.0 359.6,178.6 359.6,182.1 358.7,183.7 356.2,184.7 352.6,184.9 348.6,183.9 345.0,181.8 342.5,178.9 341.6,175.4Z M341.6,185.3 342.8,188.0 346.1,190.3 350.6,191.9 355.1,192.5 358.4,192.5 359.6,192.0 359.6,195.6 358.4,197.3 355.1,198.3 350.6,198.0 346.1,196.1 342.8,192.8 341.6,188.8Z" fill="url(#gh)" stroke="#2a2a2a" stroke-width="0.8" stroke-linejoin="round"/><path d="M378.2,105.5 375.6,107.5 371.8,109.1 367.5,110.2 363.6,110.7 360.9,110.8 359.9,110.7 359.9,113.7 360.9,114.9 363.6,115.6 367.5,115.4 371.8,114.4 375.6,112.3 378.2,109.4Z M378.9,117.8 378.0,120.0 375.3,121.9 371.5,123.4 367.3,124.4 363.5,124.9 360.8,125.0 359.9,124.9 359.9,127.9 360.8,129.0 363.5,129.7 367.3,129.7 371.5,128.7 375.3,126.7 378.0,124.0 378.9,120.8Z M378.9,132.0 378.0,134.2 375.3,136.1 371.5,137.6 367.3,138.7 363.5,139.2 360.8,139.2 359.9,139.1 359.9,142.1 360.8,143.2 363.5,144.0 367.3,143.9 371.5,142.9 375.3,140.9 378.0,138.2 378.9,135.0Z M378.9,146.2 378.0,148.4 375.3,150.3 371.5,151.8 367.3,152.9 363.5,153.4 360.8,153.4 359.9,153.3 359.9,156.3 360.8,157.5 363.5,158.2 367.3,158.1 371.5,157.1 375.3,155.1 378.0,152.4 378.9,149.2Z M378.9,160.4 378.0,162.6 375.3,164.5 371.5,166.1 367.3,167.1 363.5,167.6 360.8,167.7 359.9,167.5 359.9,170.5 360.8,171.7 363.5,172.4 367.3,172.3 371.5,171.3 375.3,169.3 378.0,166.6 378.9,163.4Z M378.9,174.6 377.6,177.1 374.1,179.3 369.4,180.8 364.7,181.7 361.2,181.9 359.9,181.7 359.9,184.7 361.2,186.0 364.7,186.6 369.4,186.1 374.1,184.3 377.6,181.3 378.9,177.6Z M378.9,188.8 378.1,190.8 375.9,192.6 372.7,194.1 368.9,195.2 368.9,200.4 372.7,199.2 375.9,197.3 378.1,194.7 378.9,191.8Z" fill="url(#gbh)" stroke="#2a2a2a" stroke-width="0.8" stroke-linejoin="round"/><path d="M359.9,110.3 360.8,109.1 363.5,108.3 367.3,108.3 371.5,109.3 375.3,111.3 378.0,114.1 378.9,117.4 378.9,121.2 378.0,119.1 375.3,117.3 371.5,115.8 367.3,114.8 363.5,114.3 360.8,114.1 359.9,114.1Z M359.9,124.5 360.8,123.3 363.5,122.5 367.3,122.5 371.5,123.5 375.3,125.5 378.0,128.3 378.9,131.6 378.9,135.4 378.0,133.3 375.3,131.5 371.5,130.0 367.3,129.0 363.5,128.5 360.8,128.3 359.9,128.3Z M359.9,138.7 360.8,137.5 363.5,136.7 367.3,136.7 371.5,137.7 375.3,139.7 378.0,142.5 378.9,145.8 378.9,149.6 378.0,147.6 375.3,145.7 371.5,144.2 367.3,143.2 363.5,142.7 360.8,142.5 359.9,142.5Z M359.9,152.9 360.8,151.7 363.5,150.9 367.3,150.9 371.5,151.9 375.3,153.9 378.0,156.8 378.9,160.0 378.9,163.8 378.0,161.8 375.3,159.9 371.5,158.4 367.3,157.4 363.5,156.9 360.8,156.7 359.9,156.7Z M359.9,167.1 360.8,165.9 363.5,165.1 367.3,165.1 371.5,166.1 375.3,168.1 378.0,171.0 378.9,174.2 378.9,178.0 378.0,176.0 375.3,174.1 371.5,172.6 367.3,171.6 363.5,171.1 360.8,170.9 359.9,170.9Z M359.9,181.3 360.8,180.1 363.5,179.3 367.3,179.3 371.5,180.3 375.3,182.3 378.0,185.2 378.9,188.4 378.9,192.2 378.0,190.2 375.3,188.3 371.5,186.9 367.3,185.8 363.5,185.3 360.8,185.1 359.9,185.1Z" fill="url(#gh)" stroke="#2a2a2a" stroke-width="0.8" stroke-linejoin="round"/><path d="M409.7,104.6 408.9,104.3 406.5,104.3 403.1,104.8 399.3,106.0 395.9,107.9 393.5,110.4 392.7,113.2 392.7,115.9 393.5,114.1 395.9,112.3 399.3,110.8 403.1,109.6 406.5,108.7 408.9,107.9 409.7,107.4Z M409.7,121.8 408.9,121.5 406.5,121.4 403.1,122.0 399.3,123.2 395.9,125.1 393.5,127.6 392.7,130.4 392.7,133.1 393.5,131.2 395.9,129.5 399.3,128.0 403.1,126.8 406.5,125.8 408.9,125.1 409.7,124.5Z M409.7,139.0 408.9,138.6 406.5,138.6 403.1,139.1 399.3,140.4 395.9,142.3 393.5,144.8 392.7,147.6 392.7,150.3 393.5,148.4 395.9,146.7 399.3,145.2 403.1,143.9 406.5,143.0 408.9,142.3 409.7,141.7Z M409.7,156.1 408.9,155.8 406.5,155.8 403.1,156.3 399.3,157.5 395.9,159.5 393.5,161.9 392.7,164.7 392.7,167.5 393.5,165.6 395.9,163.8 399.3,162.3 403.1,161.1 406.5,160.2 408.9,159.5 409.7,158.9Z M409.7,173.3 408.9,173.0 406.5,172.9 403.1,173.5 399.3,174.7 395.9,176.6 393.5,179.1 392.7,181.9 392.7,184.6 393.5,182.8 395.9,181.0 399.3,179.5 403.1,178.3 406.5,177.3 408.9,176.6 409.7,176.0Z M409.7,190.5 408.6,190.1 405.4,190.2 401.2,191.2 396.9,193.1 393.8,195.8 392.7,199.1 392.7,201.8 393.8,199.6 396.9,197.7 401.2,196.0 405.4,194.8 408.6,193.9 409.7,193.2Z" fill="url(#gbh)" stroke="#2a2a2a" stroke-width="0.8" stroke-linejoin="round"/><path d="M392.7,112.9 393.5,114.6 395.9,116.3 399.3,117.7 403.1,119.0 406.5,120.0 408.9,120.8 409.7,121.5 409.7,124.9 408.9,125.3 406.5,125.5 403.1,125.0 399.3,123.8 395.9,121.8 393.5,119.2 392.7,116.3Z M392.7,130.1 393.5,131.8 395.9,133.5 399.3,134.9 403.1,136.1 406.5,137.1 408.9,137.9 409.7,138.6 409.7,142.0 408.9,142.5 406.5,142.6 403.1,142.2 399.3,140.9 395.9,138.9 393.5,136.4 392.7,133.5Z M392.7,147.2 393.5,149.0 395.9,150.6 399.3,152.1 403.1,153.3 406.5,154.3 408.9,155.1 409.7,155.8 409.7,159.2 408.9,159.7 406.5,159.8 403.1,159.3 399.3,158.1 395.9,156.1 393.5,153.5 392.7,150.6Z M392.7,164.4 393.5,166.1 395.9,167.8 399.3,169.3 403.1,170.5 406.5,171.5 408.9,172.3 409.7,173.0 409.7,176.4 408.9,176.8 406.5,177.0 403.1,176.5 399.3,175.3 395.9,173.3 393.5,170.7 392.7,167.8Z M392.7,181.6 393.5,183.3 395.9,185.0 399.3,186.4 403.1,187.7 406.5,188.6 408.9,189.5 409.7,190.1 409.7,193.6 408.9,194.0 406.5,194.1 403.1,193.7 399.3,192.4 395.9,190.5 393.5,187.9 392.7,185.0Z M392.7,198.7 393.1,200.0 394.3,201.2 396.2,202.3 396.2,207.8 394.3,206.1 393.1,204.2 392.7,202.1Z" fill="url(#gh)" stroke="#2a2a2a" stroke-width="0.8" stroke-linejoin="round"/><path d="M259.7,200.6 263.3,202.4 266.2,204.4 268.1,206.1 268.6,206.8 270.5,204.7 270.7,203.2 269.3,201.0 266.6,198.7 263.0,196.9Z M260.4,190.5 262.4,189.5 265.5,189.6 269.0,190.8 272.5,192.6 275.3,194.6 277.0,196.1 277.5,196.9 279.5,194.7 279.6,193.3 278.4,191.1 275.8,188.9 272.4,187.0 268.6,186.2 265.0,186.6 262.3,188.3Z M269.3,180.5 271.4,179.5 274.4,179.7 278.0,180.8 281.4,182.6 284.2,184.6 286.0,186.2 286.5,186.9 288.4,184.7 288.6,183.3 287.3,181.1 284.8,178.9 281.3,177.1 277.5,176.2 274.0,176.6 271.3,178.3Z" fill="url(#gbh)" stroke="#2a2a2a" stroke-width="0.8" stroke-linejoin="round"/><path d="M268.3,207.1 266.8,207.5 264.5,206.6 262.0,204.3 259.8,201.1 258.5,197.4 258.6,193.7 260.1,190.8 262.6,188.0 261.9,190.1 262.4,193.0 264.0,196.4 266.2,199.6 268.4,202.3 270.1,203.9 270.8,204.4Z M277.3,197.2 275.8,197.5 273.5,196.6 270.9,194.4 268.7,191.1 267.5,187.4 267.6,183.8 269.1,180.8 271.5,178.1 270.8,180.1 271.4,183.1 272.9,186.4 275.1,189.7 277.3,192.3 279.0,193.9 279.7,194.4Z M286.2,187.2 284.8,187.6 282.7,186.8 280.3,184.9 278.1,182.0 276.7,178.6 280.7,174.2 282.4,177.3 284.5,180.3 286.5,182.6 288.0,184.0 288.7,184.4Z" fill="url(#gh)" stroke="#2a2a2a" stroke-width="0.8" stroke-linejoin="round"/><path d="M267.8,204.5 267.7,207.8 268.5,211.9 270.3,215.8 272.9,218.5 275.9,219.5 279.0,219.5 277.1,218.5 275.3,215.8 273.9,211.9 273.0,207.8 272.4,204.5Z M282.9,202.5 282.1,203.3 281.7,205.7 281.9,209.1 282.9,212.9 284.7,216.3 287.2,218.7 290.0,219.5 293.1,219.5 291.3,218.7 289.6,216.3 288.3,212.9 287.3,209.1 286.6,205.7 286.3,203.3 286.0,202.5Z M297.0,202.5 296.2,203.3 295.7,205.7 295.9,209.1 297.0,212.9 298.8,216.3 301.2,218.7 304.0,219.5 307.1,219.5 305.3,218.7 303.7,216.3 302.4,212.9 301.3,209.1 300.7,205.7 300.3,203.3 300.1,202.5Z M311.0,202.5 310.2,203.3 309.8,205.7 310.0,209.1 311.0,212.9 312.8,216.3 315.3,218.7 318.1,219.5 321.2,219.5 319.4,218.7 317.8,216.3 316.4,212.9 315.4,209.1 314.7,205.7 314.4,203.3 314.1,202.5Z" fill="url(#gbv)" stroke="#2a2a2a" stroke-width="0.8" stroke-linejoin="round"/><path d="M275.5,219.5 277.2,218.7 278.7,216.3 280.0,212.9 281.0,209.1 281.7,205.7 282.2,203.3 282.6,202.5 286.4,202.5 287.3,203.3 287.9,205.7 287.8,209.1 286.7,212.9 284.9,216.3 282.3,218.7 279.4,219.5Z M289.6,219.5 291.2,218.7 292.8,216.3 294.0,212.9 295.1,209.1 295.8,205.7 296.2,203.3 296.6,202.5 300.5,202.5 301.4,203.3 301.9,205.7 301.8,209.1 300.8,212.9 298.9,216.3 296.4,218.7 293.4,219.5Z M303.6,219.5 305.3,218.7 306.8,216.3 308.1,212.9 309.1,209.1 309.8,205.7 310.3,203.3 310.7,202.5 314.5,202.5 315.4,203.3 316.0,205.7 315.9,209.1 314.8,212.9 313.0,216.3 310.4,218.7 307.5,219.5Z M317.7,219.5 319.4,218.6 321.0,215.9 322.4,212.2 323.4,208.2 324.0,204.9 324.5,202.8 329.2,202.8 329.9,204.9 330.0,208.2 329.1,212.2 327.3,215.9 324.7,218.6 321.5,219.5Z" fill="url(#gv)" stroke="#2a2a2a" stroke-width="0.8" stroke-linejoin="round"/><path d="M339.3,194.1 337.3,195.1 336.0,195.9 335.6,196.3 336.5,199.1 337.2,199.4 338.7,199.3 340.8,198.7Z M353.9,197.5 353.5,199.2 351.7,201.3 348.8,203.5 345.5,205.6 342.5,207.3 340.4,208.4 339.7,209.0 340.6,211.8 341.6,212.2 343.9,211.8 347.1,210.5 350.4,208.5 353.2,205.8 354.7,203.0 354.7,200.3Z M357.9,210.2 357.6,212.0 355.8,214.0 352.9,216.3 349.6,218.3 346.5,220.0 344.4,221.2 343.7,221.7 344.6,224.5 345.6,224.9 348.0,224.5 351.2,223.2 354.5,221.2 357.2,218.6 358.8,215.7 358.8,213.0Z M362.0,222.9 361.5,224.9 359.2,227.3 355.7,229.8 357.3,234.8 360.6,232.0 362.7,228.8 362.9,225.7Z" fill="url(#gbh)" stroke="#2a2a2a" stroke-width="0.8" stroke-linejoin="round"/><path d="M335.5,195.9 336.1,194.9 338.2,193.8 341.5,193.0 345.4,192.7 349.2,193.3 352.1,194.8 353.7,197.1 354.9,200.6 353.6,199.5 351.0,199.0 347.4,198.9 343.5,199.1 340.0,199.5 337.6,199.6 336.6,199.4Z M339.6,208.7 340.1,207.7 342.3,206.5 345.6,205.7 349.5,205.4 353.2,206.1 356.2,207.6 357.8,209.9 358.9,213.4 357.7,212.2 355.0,211.7 351.4,211.6 347.5,211.8 344.1,212.2 341.6,212.4 340.7,212.2Z M343.6,221.4 344.2,220.4 346.3,219.3 349.6,218.4 353.5,218.2 357.3,218.8 360.2,220.3 361.9,222.6 363.0,226.1 361.7,225.0 359.1,224.4 355.5,224.3 351.6,224.6 348.1,224.9 345.7,225.1 344.7,224.9Z" fill="url(#gh)" stroke="#2a2a2a" stroke-width="0.8" stroke-linejoin="round"/><path d="M366.4,190.7 363.9,190.6 360.6,191.4 357.2,193.1 354.4,195.7 352.7,198.7 352.6,201.7 353.2,204.4 353.5,202.2 355.3,199.9 358.2,197.7 361.6,196.0 364.9,194.8 367.3,194.3Z M370.6,203.9 369.5,203.0 367.0,202.7 363.7,203.5 360.2,205.2 357.3,207.7 355.6,210.8 355.4,213.9 356.1,216.6 356.4,214.3 358.3,212.0 361.3,209.8 364.8,208.0 368.0,206.9 370.3,206.5 371.2,206.6Z M373.4,216.1 372.3,215.1 369.9,214.9 366.5,215.6 363.0,217.4 360.1,219.9 358.4,223.0 358.3,226.1 358.9,228.7 359.2,226.5 361.1,224.1 364.1,222.0 367.6,220.2 370.8,219.1 373.2,218.7 374.0,218.8Z" fill="url(#gbh)" stroke="#2a2a2a" stroke-width="0.8" stroke-linejoin="round"/><path d="M352.5,201.4 353.8,203.1 356.5,204.3 360.1,204.9 364.0,204.9 367.4,204.5 369.7,204.0 370.5,203.6 371.3,206.9 370.8,208.4 368.7,209.8 365.4,210.7 361.5,210.7 357.7,209.6 354.8,207.5 353.3,204.7Z M355.4,213.6 356.6,215.3 359.3,216.5 363.0,217.1 366.9,217.1 370.3,216.7 372.6,216.2 373.3,215.8 374.1,219.1 373.6,220.6 371.5,222.0 368.2,222.8 364.3,222.8 360.6,221.8 357.7,219.7 356.1,216.9Z M358.2,225.7 358.3,226.1 358.5,226.5 358.8,226.9 359.7,230.9 359.4,230.3 359.2,229.7 359.0,229.1Z" fill="url(#gh)" stroke="#2a2a2a" stroke-width="0.8" stroke-linejoin="round"/><path d="M380.0,189.3 377.4,192.8 374.5,195.8 372.2,197.7 371.3,198.3 373.0,200.5 374.5,200.8 377.3,199.5 380.3,196.8 382.8,193.0Z M388.8,193.3 389.3,195.4 388.4,198.2 386.5,201.3 384.0,204.3 381.5,206.7 379.7,208.2 378.9,208.6 380.6,210.9 381.9,211.2 384.2,210.3 386.9,208.2 389.4,205.2 391.0,201.8 391.5,198.4 390.5,195.6Z M396.4,203.7 396.9,205.7 396.1,208.4 394.2,211.4 397.1,215.3 398.7,211.9 399.1,208.6 398.1,205.9Z" fill="url(#gbh)" stroke="#2a2a2a" stroke-width="0.8" stroke-linejoin="round"/><path d="M371.1,198.0 371.1,196.6 372.6,194.6 375.3,192.6 378.9,191.1 382.7,190.5 386.1,191.2 388.6,193.0 390.7,195.9 388.9,194.9 386.0,195.0 382.5,196.0 378.9,197.5 375.9,199.1 373.9,200.3 373.2,200.8Z M378.7,208.3 378.7,206.9 380.2,204.9 382.9,202.9 386.5,201.4 390.3,200.8 393.8,201.5 396.2,203.4 398.3,206.2 396.5,205.2 393.7,205.3 390.1,206.3 386.6,207.8 383.5,209.4 381.5,210.7 380.8,211.1Z" fill="url(#gh)" stroke="#2a2a2a" stroke-width="0.8" stroke-linejoin="round"/><path d="M379.0,205.4 378.8,206.8 378.8,208.1 379.2,209.3 380.4,211.6 380.2,210.8 380.3,209.8 380.7,208.8Z M395.3,207.9 394.3,207.4 392.2,207.9 389.5,209.3 386.9,211.6 385.0,214.4 384.1,217.3 384.6,219.9 385.8,222.3 385.6,220.4 386.8,218.1 388.9,215.6 391.5,213.4 394.0,211.6 395.8,210.5 396.5,210.2Z M400.7,218.5 399.6,218.1 397.5,218.5 394.8,220.0 392.2,222.2 390.3,225.0 389.4,227.9 389.9,230.6 391.1,232.9 391.0,231.1 392.1,228.7 394.3,226.3 396.9,224.0 399.4,222.3 401.2,221.2 401.8,220.9Z" fill="url(#gbh)" stroke="#2a2a2a" stroke-width="0.8" stroke-linejoin="round"/><path d="M379.1,209.0 380.5,210.1 383.0,210.5 386.2,210.2 389.6,209.5 392.5,208.6 394.5,207.9 395.2,207.6 396.6,210.5 396.4,211.7 394.8,213.2 392.1,214.5 388.8,215.3 385.3,215.1 382.4,214.0 380.6,211.9Z M384.4,219.6 385.8,220.8 388.3,221.1 391.6,220.9 394.9,220.1 397.8,219.2 399.8,218.5 400.5,218.3 402.0,221.2 401.8,222.4 400.2,223.9 397.5,225.2 394.1,225.9 390.7,225.8 387.8,224.6 385.9,222.6Z M389.8,230.3 390.6,231.1 392.0,231.6 394.0,231.8 396.3,236.5 394.1,235.9 392.4,234.8 391.2,233.2Z" fill="url(#gh)" stroke="#2a2a2a" stroke-width="0.8" stroke-linejoin="round"/><path d="M291.9,53.5 288.3,54.3 284.5,53.6 281.2,51.6 279.0,48.7 278.4,45.6 279.4,42.9 278.5,44.0 277.3,46.9 277.8,50.1 279.9,53.1 283.2,55.2 287.1,55.8 290.8,54.7Z M291.0,55.6 288.2,57.7 284.6,58.4 280.9,57.6 277.7,55.6 275.7,52.7 275.1,49.6 276.1,47.1 275.2,48.1 274.1,50.9 274.5,54.1 276.5,57.1 279.7,59.2 283.5,59.9 287.2,59.0 290.1,56.7Z M287.7,59.7 284.4,62.1 280.2,62.5 276.0,60.9 273.0,58.0 271.8,54.4 272.7,51.3 271.8,52.4 270.7,55.8 271.8,59.5 274.8,62.5 279.0,63.9 283.4,63.4 286.8,60.8Z" fill="url(#gbh)" stroke="#2a2a2a" stroke-width="0.8" stroke-linejoin="round"/><path d="M279.5,42.8 282.0,41.1 285.2,40.8 288.6,42.0 291.3,44.7 292.8,48.3 292.7,52.1 291.1,55.5 290.0,56.8 291.4,53.7 291.3,50.1 289.7,46.6 287.0,44.0 283.8,42.6 280.7,42.7 278.4,44.2Z M276.2,46.9 278.7,45.2 281.9,44.9 285.3,46.1 288.0,48.8 289.5,52.4 289.4,56.2 287.8,59.6 286.7,61.0 288.2,57.8 288.0,54.2 286.4,50.7 283.7,48.1 280.5,46.7 277.4,46.8 275.1,48.3Z" fill="url(#gh)" stroke="#2a2a2a" stroke-width="0.8" stroke-linejoin="round"/></g>
<g><path d="M86,92 L100,86 L118,88 L134,86 L148,90 L151,104 L149,122 L146,136 L136,142 L122,146 L108,146 L96,144 L86,136 L82,116Z" fill="#7d90e4" opacity="0.36" stroke="#7d90e4" stroke-width="5" stroke-linejoin="round"/><circle cx="103.8" cy="48.7" r="3.8" fill="url(#sphL)" opacity="0.85"/><circle cx="102.1" cy="55.2" r="3.8" fill="url(#sphL)" opacity="0.85"/><circle cx="100" cy="59" r="3.8" fill="url(#sphL)" opacity="0.85"/><circle cx="98.3" cy="62.8" r="3.8" fill="url(#sphL)" opacity="0.85"/><circle cx="97.3" cy="66" r="3.8" fill="url(#sphL)" opacity="0.85"/><circle cx="88" cy="76.9" r="3.8" fill="url(#sphL)" opacity="0.85"/><circle cx="91.3" cy="80.2" r="3.8" fill="url(#sphL)" opacity="0.85"/><circle cx="87" cy="82.3" r="3.8" fill="url(#sphL)" opacity="0.85"/><circle cx="104.3" cy="75.8" r="3.8" fill="url(#sphL)" opacity="0.85"/><circle cx="103.2" cy="79.1" r="3.8" fill="url(#sphL)" opacity="0.85"/><circle cx="104.3" cy="83.4" r="3.8" fill="url(#sphL)" opacity="0.85"/><circle cx="113" cy="82.3" r="3.8" fill="url(#sphL)" opacity="0.85"/><circle cx="118.4" cy="81.3" r="3.8" fill="url(#sphL)" opacity="0.85"/><circle cx="122.8" cy="79.1" r="3.8" fill="url(#sphL)" opacity="0.85"/><circle cx="121.7" cy="83.4" r="3.8" fill="url(#sphL)" opacity="0.85"/><circle cx="140.1" cy="75.8" r="3.8" fill="url(#sphL)" opacity="0.85"/><circle cx="142.3" cy="79.1" r="3.8" fill="url(#sphL)" opacity="0.85"/><circle cx="145.6" cy="81.8" r="3.8" fill="url(#sphL)" opacity="0.85"/><circle cx="135.8" cy="83.4" r="3.8" fill="url(#sphL)" opacity="0.85"/><circle cx="95.6" cy="155.1" r="3.8" fill="url(#sphL)" opacity="0.85"/><circle cx="100.8" cy="160.3" r="3.8" fill="url(#sphL)" opacity="0.85"/><circle cx="98.2" cy="163.7" r="3.8" fill="url(#sphL)" opacity="0.85"/><circle cx="104.2" cy="156.9" r="3.8" fill="url(#sphL)" opacity="0.85"/><circle cx="80.2" cy="151.7" r="3.8" fill="url(#sphL)" opacity="0.85"/><circle cx="85.3" cy="150" r="3.8" fill="url(#sphL)" opacity="0.85"/><circle cx="126.5" cy="150" r="3.8" fill="url(#sphL)" opacity="0.85"/><circle cx="138.6" cy="139.7" r="3.8" fill="url(#sphL)" opacity="0.85"/><circle cx="128.3" cy="144.8" r="3.8" fill="url(#sphL)" opacity="0.85"/><circle cx="143.7" cy="120.8" r="3.8" fill="url(#sphL)" opacity="0.85"/><circle cx="140.3" cy="108.7" r="3.8" fill="url(#sphL)" opacity="0.85"/><circle cx="146" cy="128" r="3.8" fill="url(#sphL)" opacity="0.85"/><circle cx="133" cy="116" r="3.8" fill="url(#sphL)" opacity="0.85"/><circle cx="128" cy="100" r="3.8" fill="url(#sphL)" opacity="0.85"/><circle cx="118" cy="98" r="3.8" fill="url(#sphL)" opacity="0.85"/><circle cx="112" cy="108" r="3.8" fill="url(#sphL)" opacity="0.85"/><circle cx="138" cy="95" r="3.8" fill="url(#sphL)" opacity="0.85"/><circle cx="90" cy="96" r="3.8" fill="url(#sphL)" opacity="0.85"/><circle cx="84" cy="108" r="3.8" fill="url(#sphL)" opacity="0.85"/><circle cx="88" cy="146" r="3.8" fill="url(#sphL)" opacity="0.85"/><circle cx="112" cy="150" r="3.8" fill="url(#sphL)" opacity="0.85"/><circle cx="102.3" cy="118.3" r="3.4" fill="#7b90e6" opacity="0.32"/><circle cx="124.2" cy="122.5" r="3.1" fill="#7b90e6" opacity="0.32"/><circle cx="88.8" cy="133.5" r="3.3" fill="#7b90e6" opacity="0.32"/><circle cx="102.1" cy="141.8" r="3.6" fill="#7b90e6" opacity="0.32"/><circle cx="138.2" cy="114.8" r="3.8" fill="#7b90e6" opacity="0.32"/><circle cx="97.0" cy="123.0" r="4.0" fill="#7b90e6" opacity="0.32"/><circle cx="119.4" cy="128.5" r="3.8" fill="#7b90e6" opacity="0.32"/><circle cx="91.8" cy="129.4" r="3.7" fill="#7b90e6" opacity="0.32"/><circle cx="106.1" cy="91.6" r="4.0" fill="#7b90e6" opacity="0.32"/><circle cx="116.4" cy="127.4" r="4.1" fill="#7b90e6" opacity="0.32"/><circle cx="130.8" cy="137.9" r="3.5" fill="#7b90e6" opacity="0.32"/><circle cx="136.1" cy="113.1" r="4.1" fill="#7b90e6" opacity="0.32"/><circle cx="140.7" cy="95.1" r="3.2" fill="#7b90e6" opacity="0.32"/><circle cx="101.0" cy="140.2" r="3.5" fill="#7b90e6" opacity="0.32"/><circle cx="125.6" cy="105.7" r="3.6" fill="#7b90e6" opacity="0.32"/><circle cx="111.2" cy="108.2" r="3.7" fill="#7b90e6" opacity="0.32"/><circle cx="123.1" cy="137.0" r="3.8" fill="#7b90e6" opacity="0.32"/><circle cx="143.7" cy="134.5" r="4.2" fill="#7b90e6" opacity="0.32"/><circle cx="128.3" cy="98.5" r="4.0" fill="#7b90e6" opacity="0.32"/><circle cx="145.9" cy="137.0" r="3.7" fill="#7b90e6" opacity="0.32"/><circle cx="130.8" cy="101.0" r="4.0" fill="#7b90e6" opacity="0.32"/><circle cx="122.4" cy="104.8" r="3.1" fill="#7b90e6" opacity="0.32"/><circle cx="139.2" cy="141.5" r="3.1" fill="#7b90e6" opacity="0.32"/><circle cx="136.0" cy="111.3" r="3.2" fill="#7b90e6" opacity="0.32"/><circle cx="105.6" cy="130.0" r="4.0" fill="#7b90e6" opacity="0.32"/><circle cx="90.7" cy="122.0" r="3.1" fill="#7b90e6" opacity="0.32"/><circle cx="131.1" cy="107.2" r="4.1" fill="#7b90e6" opacity="0.32"/><circle cx="146.8" cy="116.3" r="4.2" fill="#7b90e6" opacity="0.32"/><circle cx="106.6" cy="94.0" r="3.7" fill="#7b90e6" opacity="0.32"/><circle cx="89.9" cy="100.3" r="3.5" fill="#7b90e6" opacity="0.32"/><circle cx="124.6" cy="98.1" r="3.1" fill="#7b90e6" opacity="0.32"/><circle cx="140.1" cy="106.3" r="4.2" fill="#7b90e6" opacity="0.32"/><circle cx="141.8" cy="109.6" r="3.6" fill="#7b90e6" opacity="0.32"/><circle cx="119.2" cy="123.5" r="3.7" fill="#7b90e6" opacity="0.32"/><circle cx="121.6" cy="122.2" r="4.1" fill="#7b90e6" opacity="0.32"/><circle cx="118.4" cy="112.4" r="3.9" fill="#7b90e6" opacity="0.32"/><circle cx="85.8" cy="99.6" r="4.4" fill="url(#sphB)" stroke="#0f2590" stroke-width="0.5"/><circle cx="83.1" cy="106.1" r="4.4" fill="url(#sphB)" stroke="#0f2590" stroke-width="0.5"/><circle cx="89.1" cy="111.5" r="4.4" fill="url(#sphB)" stroke="#0f2590" stroke-width="0.5"/><circle cx="88.6" cy="116.4" r="4.4" fill="url(#sphB)" stroke="#0f2590" stroke-width="0.5"/><circle cx="92.9" cy="119.7" r="4.4" fill="url(#sphB)" stroke="#0f2590" stroke-width="0.5"/><circle cx="82.1" cy="119.7" r="4.4" fill="url(#sphB)" stroke="#0f2590" stroke-width="0.5"/><circle cx="104.3" cy="116.4" r="4.4" fill="url(#sphB)" stroke="#0f2590" stroke-width="0.5"/><circle cx="102.1" cy="122.4" r="4.4" fill="url(#sphB)" stroke="#0f2590" stroke-width="0.5"/><circle cx="104.3" cy="128.9" r="4.4" fill="url(#sphB)" stroke="#0f2590" stroke-width="0.5"/><circle cx="96.2" cy="128.9" r="4.4" fill="url(#sphB)" stroke="#0f2590" stroke-width="0.5"/><circle cx="91.8" cy="132.1" r="4.4" fill="url(#sphB)" stroke="#0f2590" stroke-width="0.5"/><circle cx="98.9" cy="134.8" r="4.4" fill="url(#sphB)" stroke="#0f2590" stroke-width="0.5"/><circle cx="88.6" cy="138.6" r="4.4" fill="url(#sphB)" stroke="#0f2590" stroke-width="0.5"/><circle cx="95.6" cy="138.6" r="4.4" fill="url(#sphB)" stroke="#0f2590" stroke-width="0.5"/><circle cx="106.5" cy="141.9" r="4.4" fill="url(#sphB)" stroke="#0f2590" stroke-width="0.5"/><circle cx="115.7" cy="127.8" r="4.4" fill="url(#sphB)" stroke="#0f2590" stroke-width="0.5"/><circle cx="116.2" cy="132.7" r="4.4" fill="url(#sphB)" stroke="#0f2590" stroke-width="0.5"/><circle cx="121.6" cy="134.8" r="4.4" fill="url(#sphB)" stroke="#0f2590" stroke-width="0.5"/><circle cx="113.0" cy="135.4" r="4.4" fill="url(#sphB)" stroke="#0f2590" stroke-width="0.5"/><circle cx="100.5" cy="140.8" r="4.4" fill="url(#sphB)" stroke="#0f2590" stroke-width="0.5"/></g><g><circle cx="274.1" cy="78.1" r="3.9" fill="url(#sphS)" opacity="0.72"/><circle cx="276.9" cy="81.7" r="3.9" fill="url(#sphS)" opacity="0.72"/><circle cx="273.2" cy="82.6" r="3.9" fill="url(#sphS)" opacity="0.72"/><circle cx="286.8" cy="72.7" r="3.9" fill="url(#sphS)" opacity="0.72"/><circle cx="290.4" cy="76.3" r="3.9" fill="url(#sphS)" opacity="0.72"/><circle cx="297.6" cy="73.6" r="3.9" fill="url(#sphS)" opacity="0.72"/><circle cx="303.1" cy="77.2" r="3.9" fill="url(#sphS)" opacity="0.72"/><circle cx="301.3" cy="81.7" r="3.9" fill="url(#sphS)" opacity="0.72"/><circle cx="310.3" cy="72.7" r="3.9" fill="url(#sphS)" opacity="0.72"/><circle cx="313.9" cy="77.2" r="3.9" fill="url(#sphS)" opacity="0.72"/><circle cx="317.5" cy="81.7" r="3.9" fill="url(#sphS)" opacity="0.72"/><circle cx="322.9" cy="70.8" r="3.9" fill="url(#sphS)" opacity="0.72"/><circle cx="326.6" cy="75.4" r="3.9" fill="url(#sphS)" opacity="0.72"/><circle cx="332" cy="79.9" r="3.9" fill="url(#sphS)" opacity="0.72"/><circle cx="335.6" cy="83.5" r="3.9" fill="url(#sphS)" opacity="0.72"/><circle cx="306.7" cy="85.3" r="3.9" fill="url(#sphS)" opacity="0.72"/><circle cx="312.1" cy="88.9" r="3.9" fill="url(#sphS)" opacity="0.72"/><circle cx="292.2" cy="85.3" r="3.9" fill="url(#sphS)" opacity="0.72"/><circle cx="285" cy="87.1" r="3.9" fill="url(#sphS)" opacity="0.72"/><circle cx="245.2" cy="99.8" r="3.9" fill="url(#sphS)" opacity="0.72"/><circle cx="248.8" cy="105.2" r="3.9" fill="url(#sphS)" opacity="0.72"/><circle cx="243.4" cy="108.8" r="3.9" fill="url(#sphS)" opacity="0.72"/><circle cx="250.7" cy="112.4" r="3.9" fill="url(#sphS)" opacity="0.72"/><circle cx="256.1" cy="105.2" r="3.9" fill="url(#sphS)" opacity="0.72"/><circle cx="261.5" cy="96.1" r="3.9" fill="url(#sphS)" opacity="0.72"/><circle cx="265.1" cy="101.6" r="3.9" fill="url(#sphS)" opacity="0.72"/><circle cx="254.3" cy="117.8" r="3.9" fill="url(#sphS)" opacity="0.72"/><circle cx="248.8" cy="121.4" r="3.9" fill="url(#sphS)" opacity="0.72"/><circle cx="256.1" cy="126.9" r="3.9" fill="url(#sphS)" opacity="0.72"/><circle cx="263.3" cy="128.7" r="3.9" fill="url(#sphS)" opacity="0.72"/><circle cx="248.8" cy="132.3" r="3.9" fill="url(#sphS)" opacity="0.72"/><circle cx="256.1" cy="135.9" r="3.9" fill="url(#sphS)" opacity="0.72"/><circle cx="265.1" cy="139.5" r="3.9" fill="url(#sphS)" opacity="0.72"/><circle cx="248.8" cy="145" r="3.9" fill="url(#sphS)" opacity="0.72"/><circle cx="259.7" cy="145" r="3.9" fill="url(#sphS)" opacity="0.72"/><circle cx="270.5" cy="139.5" r="3.9" fill="url(#sphS)" opacity="0.72"/><circle cx="276" cy="145" r="3.9" fill="url(#sphS)" opacity="0.72"/><circle cx="283.2" cy="141.3" r="3.9" fill="url(#sphS)" opacity="0.72"/><circle cx="288.6" cy="146.8" r="3.9" fill="url(#sphS)" opacity="0.72"/><circle cx="290.4" cy="134.1" r="3.9" fill="url(#sphS)" opacity="0.72"/><circle cx="279.6" cy="128.7" r="3.9" fill="url(#sphS)" opacity="0.72"/><circle cx="274.1" cy="123.3" r="3.9" fill="url(#sphS)" opacity="0.72"/><circle cx="313.9" cy="99.8" r="3.9" fill="url(#sphS)" opacity="0.72"/><circle cx="317.5" cy="107" r="3.9" fill="url(#sphS)" opacity="0.72"/><circle cx="322.9" cy="114.2" r="3.9" fill="url(#sphS)" opacity="0.72"/><circle cx="313.9" cy="119.6" r="3.9" fill="url(#sphS)" opacity="0.72"/><circle cx="310.3" cy="128.7" r="3.9" fill="url(#sphS)" opacity="0.72"/><circle cx="321.1" cy="123.3" r="3.9" fill="url(#sphS)" opacity="0.72"/><circle cx="317.5" cy="96.1" r="3.9" fill="url(#sphS)" opacity="0.72"/><circle cx="328.4" cy="103.4" r="3.9" fill="url(#sphS)" opacity="0.72"/><circle cx="280" cy="92" r="3.9" fill="url(#sphS)" opacity="0.72"/><circle cx="306" cy="94" r="3.9" fill="url(#sphS)" opacity="0.72"/><circle cx="270" cy="132" r="3.9" fill="url(#sphS)" opacity="0.72"/><circle cx="300" cy="140" r="3.9" fill="url(#sphS)" opacity="0.72"/><circle cx="262" cy="118" r="3.9" fill="url(#sphS)" opacity="0.72"/><circle cx="245" cy="116" r="3.9" fill="url(#sphS)" opacity="0.72"/><circle cx="330" cy="92" r="3.9" fill="url(#sphS)" opacity="0.72"/><circle cx="318" cy="130" r="3.9" fill="url(#sphS)" opacity="0.72"/><circle cx="282.7" cy="94.8" r="4.4" fill="url(#sphR)" stroke="#a02005" stroke-width="0.5"/><circle cx="293.0" cy="95.8" r="4.4" fill="url(#sphR)" stroke="#a02005" stroke-width="0.5"/><circle cx="299.5" cy="98.0" r="4.4" fill="url(#sphR)" stroke="#a02005" stroke-width="0.5"/><circle cx="296.8" cy="101.8" r="4.4" fill="url(#sphR)" stroke="#a02005" stroke-width="0.5"/><circle cx="298.4" cy="107.2" r="4.4" fill="url(#sphR)" stroke="#a02005" stroke-width="0.5"/><circle cx="289.7" cy="105.6" r="4.4" fill="url(#sphR)" stroke="#a02005" stroke-width="0.5"/><circle cx="282.1" cy="105.6" r="4.4" fill="url(#sphR)" stroke="#a02005" stroke-width="0.5"/><circle cx="284.8" cy="114.3" r="4.4" fill="url(#sphR)" stroke="#a02005" stroke-width="0.5"/><circle cx="271.8" cy="112.7" r="4.4" fill="url(#sphR)" stroke="#a02005" stroke-width="0.5"/><circle cx="263.7" cy="112.1" r="4.4" fill="url(#sphR)" stroke="#a02005" stroke-width="0.5"/><circle cx="268.6" cy="119.7" r="4.4" fill="url(#sphR)" stroke="#a02005" stroke-width="0.5"/><circle cx="305.5" cy="111.0" r="4.4" fill="url(#sphR)" stroke="#a02005" stroke-width="0.5"/><circle cx="308.7" cy="115.9" r="4.4" fill="url(#sphR)" stroke="#a02005" stroke-width="0.5"/><circle cx="294.6" cy="120.8" r="4.4" fill="url(#sphR)" stroke="#a02005" stroke-width="0.5"/><circle cx="296.2" cy="125.7" r="4.4" fill="url(#sphR)" stroke="#a02005" stroke-width="0.5"/><circle cx="298.4" cy="131.7" r="4.4" fill="url(#sphR)" stroke="#a02005" stroke-width="0.5"/><circle cx="292.4" cy="130.6" r="4.4" fill="url(#sphR)" stroke="#a02005" stroke-width="0.5"/><circle cx="270.2" cy="109.4" r="4.4" fill="url(#sphR)" stroke="#a02005" stroke-width="0.5"/></g>
<line x1="27.6" y1="90.3" x2="408" y2="90.3" stroke="#7a9ee0" stroke-width="3" stroke-dasharray="3.4,3.1"/>
<line x1="27.6" y1="211.7" x2="421.5" y2="211.7" stroke="#7a9ee0" stroke-width="3" stroke-dasharray="3.4,3.1"/>
<text x="13.3" y="15.5" font-size="20" font-weight="bold" font-family="Liberation Sans, sans-serif">A</text>
<text x="94.9" y="26.1" font-size="18.6" font-family="Liberation Sans, sans-serif">Site A</text>
<text x="302.1" y="26" font-size="18.6" font-family="Liberation Sans, sans-serif">Site B</text>
<text x="197.7" y="28.5" font-size="16" font-family="Liberation Sans, sans-serif">90°</text>
<path d="M206,32.2V59.8" stroke="#000" stroke-width="2"/>
<path d="M191.7,43.8 Q206,53 214.5,45" stroke="#000" stroke-width="2" fill="none"/>
<path d="M220.5,41 L212,41.8 L218.6,48.8Z" fill="#000"/>
<text x="14.2" y="87" font-size="16.5" font-family="Liberation Sans, sans-serif">V439</text>
<text x="0.2" y="128.5" font-size="16.5" font-family="Liberation Sans, sans-serif">V442</text>
<text x="5.6" y="150.2" font-size="16.5" font-family="Liberation Sans, sans-serif">Y446</text>
<text x="14.6" y="178.5" font-size="16.5" font-family="Liberation Sans, sans-serif">A478</text>
<text x="159.6" y="86.8" font-size="16.5" font-family="Liberation Sans, sans-serif">P504</text>
<text x="158.2" y="132.6" font-size="16.5" font-family="Liberation Sans, sans-serif">V481</text>
<text x="227.6" y="60.3" font-size="16.5" font-family="Liberation Sans, sans-serif">I1076</text>
<text x="218.2" y="87.3" font-size="16.5" font-family="Liberation Sans, sans-serif">G1075</text>
<text x="196.2" y="111.4" font-size="16.5" font-family="Liberation Sans, sans-serif">I1074</text>
<text x="200.4" y="145.8" font-size="16.5" font-family="Liberation Sans, sans-serif">L1073</text>
<text x="191.2" y="178" font-size="16.5" font-family="Liberation Sans, sans-serif">I1158</text>
<text x="367.2" y="63" font-size="16.5" font-family="Liberation Sans, sans-serif">A1154</text>
<g id="spheres"></g>
<line x1="54.6" y1="89.9" x2="82.4" y2="101.9" stroke="#000" stroke-width="2.2"/>
<line x1="40.7" y1="122.9" x2="81.2" y2="116.5" stroke="#000" stroke-width="2.2"/>
<line x1="48.2" y1="140.8" x2="89.4" y2="135.8" stroke="#000" stroke-width="2.2"/>
<line x1="54.8" y1="166" x2="104" y2="144.5" stroke="#000" stroke-width="2.2"/>
<line x1="155.5" y1="84.3" x2="103.9" y2="116.7" stroke="#000" stroke-width="2.2"/>
<line x1="154.6" y1="125.6" x2="119.8" y2="130.6" stroke="#000" stroke-width="2.2"/>
<line x1="270.5" y1="59" x2="295" y2="97" stroke="#000" stroke-width="2.2"/>
<line x1="266" y1="89.4" x2="281.1" y2="93.2" stroke="#000" stroke-width="2.2"/>
<line x1="241.9" y1="103.3" x2="281.1" y2="106.3" stroke="#000" stroke-width="2.2"/>
<line x1="250.8" y1="135" x2="266" y2="118.5" stroke="#000" stroke-width="2.2"/>
<line x1="236.8" y1="170.4" x2="293.8" y2="128.6" stroke="#000" stroke-width="2.2"/>
<line x1="372.7" y1="66.9" x2="307.8" y2="111.4" stroke="#000" stroke-width="2.2"/>
<line x1="488.9" y1="34.1" x2="488.9" y2="228" stroke="#000" stroke-width="2.1"/>
<line x1="487.8" y1="226.9" x2="777.9" y2="226.9" stroke="#000" stroke-width="2.1"/>
<line x1="480.9" y1="226.9" x2="488.9" y2="226.9" stroke="#000" stroke-width="2.1"/>
<text x="479.5" y="231.9" text-anchor="end" font-size="14" font-family="Liberation Sans, sans-serif">0</text>
<line x1="484.4" y1="209.5" x2="488.9" y2="209.5" stroke="#000" stroke-width="2.1"/>
<line x1="480.9" y1="192.1" x2="488.9" y2="192.1" stroke="#000" stroke-width="2.1"/>
<text x="479.5" y="197.1" text-anchor="end" font-size="14" font-family="Liberation Sans, sans-serif">20</text>
<line x1="484.4" y1="174.6" x2="488.9" y2="174.6" stroke="#000" stroke-width="2.1"/>
<line x1="480.9" y1="157.2" x2="488.9" y2="157.2" stroke="#000" stroke-width="2.1"/>
<text x="479.5" y="162.2" text-anchor="end" font-size="14" font-family="Liberation Sans, sans-serif">40</text>
<line x1="484.4" y1="139.8" x2="488.9" y2="139.8" stroke="#000" stroke-width="2.1"/>
<line x1="480.9" y1="122.4" x2="488.9" y2="122.4" stroke="#000" stroke-width="2.1"/>
<text x="479.5" y="127.4" text-anchor="end" font-size="14" font-family="Liberation Sans, sans-serif">60</text>
<line x1="484.4" y1="105.0" x2="488.9" y2="105.0" stroke="#000" stroke-width="2.1"/>
<line x1="480.9" y1="87.5" x2="488.9" y2="87.5" stroke="#000" stroke-width="2.1"/>
<text x="479.5" y="92.5" text-anchor="end" font-size="14" font-family="Liberation Sans, sans-serif">80</text>
<line x1="484.4" y1="70.1" x2="488.9" y2="70.1" stroke="#000" stroke-width="2.1"/>
<line x1="480.9" y1="52.7" x2="488.9" y2="52.7" stroke="#000" stroke-width="2.1"/>
<text x="479.5" y="57.7" text-anchor="end" font-size="14" font-family="Liberation Sans, sans-serif">100</text>
<line x1="484.4" y1="35.3" x2="488.9" y2="35.3" stroke="#000" stroke-width="2.1"/>
<line x1="488.9" y1="226.9" x2="488.9" y2="234.9" stroke="#000" stroke-width="2.1"/>
<text x="488.9" y="249.5" text-anchor="middle" font-size="14" font-family="Liberation Sans, sans-serif">0</text>
<line x1="524.9" y1="226.9" x2="524.9" y2="231.4" stroke="#000" stroke-width="2.1"/>
<line x1="560.9" y1="226.9" x2="560.9" y2="234.9" stroke="#000" stroke-width="2.1"/>
<text x="560.9" y="249.5" text-anchor="middle" font-size="14" font-family="Liberation Sans, sans-serif">10</text>
<line x1="596.9" y1="226.9" x2="596.9" y2="231.4" stroke="#000" stroke-width="2.1"/>
<line x1="632.9" y1="226.9" x2="632.9" y2="234.9" stroke="#000" stroke-width="2.1"/>
<text x="632.9" y="249.5" text-anchor="middle" font-size="14" font-family="Liberation Sans, sans-serif">20</text>
<line x1="668.9" y1="226.9" x2="668.9" y2="231.4" stroke="#000" stroke-width="2.1"/>
<line x1="704.9" y1="226.9" x2="704.9" y2="234.9" stroke="#000" stroke-width="2.1"/>
<text x="704.9" y="249.5" text-anchor="middle" font-size="14" font-family="Liberation Sans, sans-serif">30</text>
<line x1="740.9" y1="226.9" x2="740.9" y2="231.4" stroke="#000" stroke-width="2.1"/>
<line x1="776.9" y1="226.9" x2="776.9" y2="234.9" stroke="#000" stroke-width="2.1"/>
<text x="776.9" y="249.5" text-anchor="middle" font-size="14" font-family="Liberation Sans, sans-serif">40</text>
<text transform="translate(444.2,130.2) rotate(-90)" text-anchor="middle" font-size="15.2" font-family="Liberation Sans, sans-serif">Occupancy (%)</text>
<text x="583.9" y="274.4" font-size="15" font-family="Liberation Sans, sans-serif">[CHOL]<tspan font-size="11.4" dy="4.6">free</tspan><tspan dy="-4.6"> (%)</tspan></text>
<path d="M504.6,226.9V218.2M501.0,226.9H508.2M501.0,218.2H508.2" stroke="#000" stroke-width="1.6" fill="none"/>
<path d="M520.4,226.9V207.7M516.8,226.9H524.0M516.8,207.7H524.0" stroke="#000" stroke-width="1.6" fill="none"/>
<path d="M555.5,226.9V201.6M551.9,226.9H559.1M551.9,201.6H559.1" stroke="#000" stroke-width="1.6" fill="none"/>
<path d="M590.1,214.7V198.2M586.5,214.7H593.7M586.5,198.2H593.7" stroke="#000" stroke-width="1.6" fill="none"/>
<path d="M694.1,216.4V144.9M690.5,216.4H697.7M690.5,144.9H697.7" stroke="#000" stroke-width="1.6" fill="none"/>
<path d="M765.7,193.8V110.5M762.1,193.8H769.3M762.1,110.5H769.3" stroke="#000" stroke-width="1.6" fill="none"/>
<path d="M488.90,226.90 L492.36,226.03 L495.81,225.16 L499.27,224.29 L502.72,223.42 L506.18,222.55 L509.64,221.68 L513.09,220.81 L516.55,219.94 L520.00,219.07 L523.46,218.20 L526.92,217.33 L530.37,216.46 L533.83,215.60 L537.28,214.73 L540.74,213.86 L544.20,212.99 L547.65,212.12 L551.11,211.25 L554.56,210.38 L558.02,209.51 L561.48,208.64 L564.93,207.77 L568.39,206.90 L571.84,206.03 L575.30,205.16 L578.76,204.29 L582.21,203.42 L585.67,202.55 L589.12,201.68 L592.58,200.81 L596.04,199.94 L599.49,199.07 L602.95,198.20 L606.40,197.33 L609.86,196.46 L613.32,195.59 L616.77,194.72 L620.23,193.85 L623.68,192.99 L627.14,192.12 L630.60,191.25 L634.05,190.38 L637.51,189.51 L640.96,188.64 L644.42,187.77 L647.88,186.90 L651.33,186.03 L654.79,185.16 L658.24,184.29 L661.70,183.42 L665.16,182.55 L668.61,181.68 L672.07,180.81 L675.52,179.94 L678.98,179.07 L682.44,178.20 L685.89,177.33 L689.35,176.46 L692.80,175.59 L696.26,174.72 L699.72,173.85 L703.17,172.98 L706.63,172.11 L710.08,171.25 L713.54,170.38 L717.00,169.51 L720.45,168.64 L723.91,167.77 L727.36,166.90 L730.82,166.03 L734.28,165.16 L737.73,164.29 L741.19,163.42 L744.64,162.55 L748.10,161.68 L751.56,160.81 L755.01,159.94 L758.47,159.07 L761.92,158.20 L765.38,157.33" stroke="#000" stroke-width="1.3" fill="none"/>
<rect x="485.1" y="223.1" width="7.6" height="7.6" fill="#000"/>
<rect x="490.9" y="221.4" width="7.6" height="7.6" fill="#000"/>
<rect x="500.8" y="219.6" width="7.6" height="7.6" fill="#000"/>
<rect x="516.6" y="213.5" width="7.6" height="7.6" fill="#000"/>
<rect x="551.7" y="210.0" width="7.6" height="7.6" fill="#000"/>
<rect x="586.3" y="203.1" width="7.6" height="7.6" fill="#000"/>
<rect x="690.3" y="176.9" width="7.6" height="7.6" fill="#000"/>
<rect x="761.9" y="148.4" width="7.6" height="7.6" fill="#000"/>
<path d="M494.7,223.4V213.0M491.1,223.4H498.3M491.1,213.0H498.3" stroke="#2038f4" stroke-width="1.6" fill="none"/>
<path d="M504.6,206.0V156.3M501.0,206.0H508.2M501.0,156.3H508.2" stroke="#2038f4" stroke-width="1.6" fill="none"/>
<path d="M520.4,183.4V105.0M516.8,183.4H524.0M516.8,105.0H524.0" stroke="#2038f4" stroke-width="1.6" fill="none"/>
<path d="M555.5,138.1V71.9M551.9,138.1H559.1M551.9,71.9H559.1" stroke="#2038f4" stroke-width="1.6" fill="none"/>
<path d="M590.1,88.2V65.6M586.5,88.2H593.7M586.5,65.6H593.7" stroke="#2038f4" stroke-width="1.6" fill="none"/>
<path d="M694.1,81.6V45.4M690.5,81.6H697.7M690.5,45.4H697.7" stroke="#2038f4" stroke-width="1.6" fill="none"/>
<path d="M765.7,59.1V49.7M762.1,59.1H769.3M762.1,49.7H769.3" stroke="#2038f4" stroke-width="1.6" fill="none"/>
<path d="M488.90,226.90 L492.36,216.80 L495.81,205.89 L499.27,195.47 L502.72,185.78 L506.18,176.86 L509.64,168.70 L513.09,161.23 L516.55,154.39 L520.00,148.13 L523.46,142.39 L526.92,137.11 L530.37,132.24 L533.83,127.75 L537.28,123.60 L540.74,119.75 L544.20,116.17 L547.65,112.84 L551.11,109.74 L554.56,106.84 L558.02,104.13 L561.48,101.58 L564.93,99.19 L568.39,96.94 L571.84,94.82 L575.30,92.83 L578.76,90.94 L582.21,89.15 L585.67,87.46 L589.12,85.86 L592.58,84.33 L596.04,82.89 L599.49,81.51 L602.95,80.20 L606.40,78.94 L609.86,77.75 L613.32,76.61 L616.77,75.52 L620.23,74.47 L623.68,73.47 L627.14,72.51 L630.60,71.59 L634.05,70.71 L637.51,69.86 L640.96,69.04 L644.42,68.26 L647.88,67.50 L651.33,66.77 L654.79,66.07 L658.24,65.39 L661.70,64.74 L665.16,64.11 L668.61,63.50 L672.07,62.91 L675.52,62.34 L678.98,61.79 L682.44,61.25 L685.89,60.74 L689.35,60.24 L692.80,59.75 L696.26,59.28 L699.72,58.82 L703.17,58.38 L706.63,57.95 L710.08,57.53 L713.54,57.12 L717.00,56.73 L720.45,56.34 L723.91,55.97 L727.36,55.60 L730.82,55.25 L734.28,54.90 L737.73,54.57 L741.19,54.24 L744.64,53.92 L748.10,53.61 L751.56,53.31 L755.01,53.01 L758.47,52.72 L761.92,52.44 L765.38,52.16" stroke="#2038f4" stroke-width="1.3" fill="none"/>
<circle cx="488.9" cy="226.9" r="3.9" fill="#2038f4"/>
<circle cx="494.7" cy="218.2" r="3.9" fill="#2038f4"/>
<circle cx="504.6" cy="181.6" r="3.9" fill="#2038f4"/>
<circle cx="520.4" cy="144.0" r="3.9" fill="#2038f4"/>
<circle cx="555.5" cy="104.6" r="3.9" fill="#2038f4"/>
<circle cx="590.1" cy="76.9" r="3.9" fill="#2038f4"/>
<circle cx="694.1" cy="63.3" r="3.9" fill="#2038f4"/>
<circle cx="765.7" cy="54.1" r="3.9" fill="#2038f4"/>
<path d="M494.7,223.4V214.7M491.1,223.4H498.3M491.1,214.7H498.3" stroke="#f42a16" stroke-width="1.6" fill="none"/>
<path d="M504.6,214.7V195.5M501.0,214.7H508.2M501.0,195.5H508.2" stroke="#f42a16" stroke-width="1.6" fill="none"/>
<path d="M520.4,204.3V184.2M516.8,204.3H524.0M516.8,184.2H524.0" stroke="#f42a16" stroke-width="1.6" fill="none"/>
<path d="M555.5,182.5V164.2M551.9,182.5H559.1M551.9,164.2H559.1" stroke="#f42a16" stroke-width="1.6" fill="none"/>
<path d="M590.1,150.3V129.3M586.5,150.3H593.7M586.5,129.3H593.7" stroke="#f42a16" stroke-width="1.6" fill="none"/>
<path d="M694.1,96.8V84.6M690.5,96.8H697.7M690.5,84.6H697.7" stroke="#f42a16" stroke-width="1.6" fill="none"/>
<path d="M765.7,72.0V56.4M762.1,72.0H769.3M762.1,56.4H769.3" stroke="#f42a16" stroke-width="1.6" fill="none"/>
<path d="M488.90,226.90 L492.36,222.85 L495.81,218.90 L499.27,215.06 L502.72,211.30 L506.18,207.64 L509.64,204.07 L513.09,200.59 L516.55,197.18 L520.00,193.86 L523.46,190.62 L526.92,187.44 L530.37,184.34 L533.83,181.31 L537.28,178.35 L540.74,175.45 L544.20,172.61 L547.65,169.84 L551.11,167.12 L554.56,164.46 L558.02,161.86 L561.48,159.31 L564.93,156.81 L568.39,154.36 L571.84,151.96 L575.30,149.61 L578.76,147.30 L582.21,145.04 L585.67,142.82 L589.12,140.64 L592.58,138.50 L596.04,136.41 L599.49,134.35 L602.95,132.33 L606.40,130.35 L609.86,128.40 L613.32,126.49 L616.77,124.61 L620.23,122.76 L623.68,120.95 L627.14,119.16 L630.60,117.41 L634.05,115.69 L637.51,113.99 L640.96,112.33 L644.42,110.69 L647.88,109.07 L651.33,107.49 L654.79,105.93 L658.24,104.39 L661.70,102.88 L665.16,101.39 L668.61,99.93 L672.07,98.49 L675.52,97.07 L678.98,95.67 L682.44,94.29 L685.89,92.94 L689.35,91.60 L692.80,90.28 L696.26,88.99 L699.72,87.71 L703.17,86.45 L706.63,85.21 L710.08,83.98 L713.54,82.78 L717.00,81.59 L720.45,80.41 L723.91,79.26 L727.36,78.12 L730.82,76.99 L734.28,75.88 L737.73,74.79 L741.19,73.71 L744.64,72.64 L748.10,71.59 L751.56,70.55 L755.01,69.52 L758.47,68.51 L761.92,67.51 L765.38,66.53" stroke="#f42a16" stroke-width="1.3" fill="none"/>
<rect x="485.1" y="223.1" width="7.6" height="7.6" fill="#f42a16"/>
<rect x="490.9" y="215.3" width="7.6" height="7.6" fill="#f42a16"/>
<rect x="500.8" y="201.8" width="7.6" height="7.6" fill="#f42a16"/>
<rect x="516.6" y="190.5" width="7.6" height="7.6" fill="#f42a16"/>
<rect x="551.7" y="169.6" width="7.6" height="7.6" fill="#f42a16"/>
<rect x="586.3" y="136.5" width="7.6" height="7.6" fill="#f42a16"/>
<rect x="690.3" y="87.2" width="7.6" height="7.6" fill="#f42a16"/>
<rect x="761.9" y="60.6" width="7.6" height="7.6" fill="#f42a16"/>
<line x1="504.2" y1="25.9" x2="525.1" y2="25.9" stroke="#2038f4" stroke-width="1.5"/><circle cx="514.5" cy="25.9" r="3.5" fill="#2038f4"/>
<text x="537" y="31" font-size="15" font-family="Liberation Sans, sans-serif">Site A</text>
<line x1="594.3" y1="25.9" x2="615.5" y2="25.9" stroke="#f42a16" stroke-width="1.5"/><rect x="601.6" y="22.5" width="6.8" height="6.8" fill="#f42a16"/>
<text x="627.3" y="31" font-size="15" font-family="Liberation Sans, sans-serif">Site B</text>
<line x1="504.2" y1="49.3" x2="525.1" y2="49.3" stroke="#000" stroke-width="1.5"/><rect x="511.1" y="45.9" width="6.8" height="6.8" fill="#000"/>
<text x="535.7" y="55.2" font-size="15.3" font-family="Liberation Sans, sans-serif">Non-specific</text>
<path d="M153.0,366.0 C153.8,364.7 156.0,359.8 158.0,358.0 C160.0,356.2 162.7,355.5 165.0,355.0 C167.3,354.5 169.5,354.5 172.0,354.8 C174.5,355.1 177.0,356.0 180.0,357.0 C183.0,358.0 185.0,360.2 190.0,361.0 C195.0,361.8 203.3,362.1 210.0,361.8 C216.7,361.6 223.3,360.3 230.0,359.5 C236.7,358.7 243.3,357.7 250.0,357.2 C256.7,356.7 263.3,356.3 270.0,356.5 C276.7,356.7 283.3,358.4 290.0,358.3 C296.7,358.2 301.7,356.6 310.0,356.2 C318.3,355.8 329.2,355.7 340.0,355.6 C350.8,355.5 369.2,355.6 375.0,355.6 L375.0,373.4 C369.2,373.4 350.8,373.0 340.0,373.2 C329.2,373.4 318.3,373.9 310.0,374.5 C301.7,375.1 296.7,376.0 290.0,376.6 C283.3,377.2 275.8,378.2 270.0,378.4 C264.2,378.6 260.0,378.5 255.0,378.0 C250.0,377.5 245.0,376.1 240.0,375.5 C235.0,374.9 230.0,374.5 225.0,374.3 C220.0,374.1 214.2,374.6 210.0,374.5 C205.8,374.4 203.3,374.4 200.0,374.0 C196.7,373.6 193.3,373.0 190.0,372.0 C186.7,371.0 183.0,369.2 180.0,368.0 C177.0,366.8 174.5,365.2 172.0,364.5 C169.5,363.8 167.3,363.4 165.0,364.0 C162.7,364.6 160.0,366.7 158.0,368.0 C156.0,369.3 153.8,371.3 153.0,372.0Z" fill="#c2c2c2"/>
<path d="M204.0,366.0 C205.3,365.3 209.0,363.2 212.0,362.0 C215.0,360.8 218.7,359.6 222.0,359.0 C225.3,358.4 228.7,358.4 232.0,358.6 C235.3,358.9 239.0,359.8 242.0,360.5 C245.0,361.2 250.3,362.2 250.0,363.0 C249.7,363.8 243.7,365.0 240.0,365.5 C236.3,366.0 232.2,365.9 228.0,366.2 C223.8,366.5 218.7,367.0 215.0,367.5 C211.3,368.0 207.5,368.8 206.0,369.0Z" fill="#8a8a8a"/>
<path d="M283.0,366.0 C284.2,365.2 287.2,362.5 290.0,361.5 C292.8,360.5 295.0,360.5 300.0,360.0 C305.0,359.5 312.5,358.9 320.0,358.5 C327.5,358.1 335.8,357.6 345.0,357.4 C354.2,357.2 370.0,357.3 375.0,357.3 L375.0,372.0 C370.0,371.9 354.2,371.7 345.0,371.6 C335.8,371.5 327.5,371.2 320.0,371.2 C312.5,371.2 305.0,371.5 300.0,371.4 C295.0,371.3 292.8,371.4 290.0,370.5 C287.2,369.6 284.2,366.8 283.0,366.0Z" fill="#8a8a8a"/>
<line x1="83.5" y1="364.7" x2="418.5" y2="364.7" stroke="#999" stroke-opacity="0.85" stroke-width="1.4" stroke-dasharray="5.2,3.4"/>
<line x1="82.4" y1="344.7" x2="82.4" y2="476.9" stroke="#222" stroke-width="2.2"/>
<line x1="81.3" y1="475.9" x2="418.5" y2="475.9" stroke="#222" stroke-width="2.1"/>
<line x1="77.3" y1="364.7" x2="82.4" y2="364.7" stroke="#222" stroke-width="1.7"/>
<text x="67.0" y="369.9" text-anchor="end" font-size="14.3" fill="#222" textLength="8.4" lengthAdjust="spacingAndGlyphs" font-family="Liberation Sans, sans-serif">0</text>
<line x1="77.3" y1="388.9" x2="82.4" y2="388.9" stroke="#222" stroke-width="1.7"/>
<text x="67.0" y="394.1" text-anchor="end" font-size="14.3" fill="#222" textLength="21.3" lengthAdjust="spacingAndGlyphs" font-family="Liberation Sans, sans-serif">−5</text>
<line x1="77.3" y1="413.1" x2="82.4" y2="413.1" stroke="#222" stroke-width="1.7"/>
<text x="67.0" y="418.3" text-anchor="end" font-size="14.3" fill="#222" textLength="30.2" lengthAdjust="spacingAndGlyphs" font-family="Liberation Sans, sans-serif">−10</text>
<line x1="77.3" y1="437.3" x2="82.4" y2="437.3" stroke="#222" stroke-width="1.7"/>
<text x="67.0" y="442.5" text-anchor="end" font-size="14.3" fill="#222" textLength="30.2" lengthAdjust="spacingAndGlyphs" font-family="Liberation Sans, sans-serif">−15</text>
<line x1="77.3" y1="461.5" x2="82.4" y2="461.5" stroke="#222" stroke-width="1.7"/>
<text x="67.0" y="466.7" text-anchor="end" font-size="14.3" fill="#222" textLength="30.2" lengthAdjust="spacingAndGlyphs" font-family="Liberation Sans, sans-serif">−20</text>
<line x1="204.2" y1="475.9" x2="204.2" y2="481.4" stroke="#222" stroke-width="1.7"/>
<text x="204.2" y="501.6" text-anchor="middle" font-size="14.3" fill="#222" font-family="Liberation Sans, sans-serif">1</text>
<line x1="373.7" y1="475.9" x2="373.7" y2="481.4" stroke="#222" stroke-width="1.7"/>
<text x="373.7" y="501.6" text-anchor="middle" font-size="14.3" fill="#222" font-family="Liberation Sans, sans-serif">2</text>
<text transform="translate(24.2,408.8) rotate(-90)" text-anchor="middle" font-size="16" fill="#222" textLength="164" lengthAdjust="spacingAndGlyphs" font-family="Liberation Sans, sans-serif">Free energy (kJ mol<tspan font-size="10.5" dy="-5.5">-1</tspan><tspan dy="5.5">)</tspan></text>
<text x="154.9" y="525.3" font-size="16" fill="#222" textLength="188.6" lengthAdjust="spacingAndGlyphs" font-family="Liberation Sans, sans-serif">Reaction coordinate (nm)</text>
<path d="M125.2,372.6 C125.8,376.0 127.4,386.2 128.9,393.0 C130.4,399.8 132.0,406.9 134.0,413.3 C136.0,419.7 139.2,427.2 141.1,431.6 C142.9,436.1 143.3,437.4 145.1,440.0 C146.9,442.6 149.8,445.7 152.0,447.5 C154.2,449.3 155.8,451.9 158.0,450.6 C160.2,449.4 163.2,444.8 165.5,440.0 C167.8,435.2 169.6,427.8 172.0,422.0 C174.4,416.2 176.7,409.4 179.8,405.2 C182.9,400.9 187.9,399.5 190.8,396.5 C193.7,393.5 196.0,388.6 197.0,387.0" stroke="#cfcfcf" stroke-width="5.4" fill="none" stroke-linejoin="round"/>
<path d="M125.2,372.6 C125.8,376.0 127.4,386.2 128.9,393.0 C130.4,399.8 132.0,406.9 134.0,413.3 C136.0,419.7 139.2,427.2 141.1,431.6 C142.9,436.1 143.3,437.4 145.1,440.0 C146.9,442.6 149.8,445.7 152.0,447.5 C154.2,449.3 155.8,451.9 158.0,450.6 C160.2,449.4 163.2,444.8 165.5,440.0 C167.8,435.2 169.6,427.8 172.0,422.0 C174.4,416.2 176.7,409.4 179.8,405.2 C182.9,400.9 187.9,399.5 190.8,396.5 C193.7,393.5 195.2,390.4 197.0,387.0 C198.8,383.6 200.1,378.9 201.7,376.0 C203.3,373.1 204.6,370.8 206.5,369.5 C208.4,368.2 209.1,368.5 213.0,368.0 C216.9,367.5 224.7,365.8 229.8,366.3 C234.9,366.8 237.0,370.1 243.5,370.9 C250.0,371.7 262.6,371.1 268.7,370.9 C274.8,370.7 275.1,370.7 280.1,369.8 C285.1,368.9 291.9,366.5 298.5,365.6 C305.1,364.7 307.2,364.8 320.0,364.6 C332.8,364.4 366.0,364.6 375.2,364.6" stroke="#1515f5" stroke-width="2.6" fill="none" stroke-linejoin="round"/>
<path d="M96.3,367.5 C98.0,369.0 103.1,373.9 106.5,376.6 C109.9,379.3 113.2,382.0 116.6,383.8 C120.0,385.6 123.9,386.7 126.8,387.4 C129.7,388.1 131.6,387.6 134.0,387.8 C136.4,388.1 139.2,389.0 141.1,388.9 C142.9,388.8 143.4,389.1 145.1,387.2 C146.8,385.3 149.1,381.3 151.3,377.7 C153.5,374.1 156.4,368.2 158.4,365.4 C160.4,362.6 161.8,361.7 163.5,360.8 C165.2,359.9 166.7,359.7 168.6,359.8 C170.5,359.9 172.5,360.5 174.7,361.4 C176.9,362.3 179.6,364.4 181.8,365.4 C184.0,366.3 184.5,366.8 187.9,367.1 C191.3,367.4 197.1,367.4 202.2,367.1 C207.3,366.8 212.7,366.1 218.4,365.4 C224.1,364.7 228.2,363.0 236.6,362.9 C245.0,362.8 255.7,364.6 268.7,364.7 C281.7,364.8 296.8,363.6 314.5,363.6 C332.2,363.6 365.1,364.4 375.2,364.5" stroke="#f51515" stroke-width="2.6" fill="none" stroke-linejoin="round"/>
<line x1="493.1" y1="312" x2="493.1" y2="504.2" stroke="#000" stroke-width="2.1"/>
<line x1="492" y1="503.2" x2="779.2" y2="503.2" stroke="#000" stroke-width="2.1"/>
<line x1="485.1" y1="313.0" x2="493.1" y2="313.0" stroke="#000" stroke-width="2.1"/>
<text x="483.4" y="318.0" text-anchor="end" font-size="14.2" font-family="Liberation Sans, sans-serif">-5</text>
<line x1="488.6" y1="344.7" x2="493.1" y2="344.7" stroke="#000" stroke-width="2.1"/>
<line x1="485.1" y1="376.4" x2="493.1" y2="376.4" stroke="#000" stroke-width="2.1"/>
<text x="483.4" y="381.4" text-anchor="end" font-size="14.2" font-family="Liberation Sans, sans-serif">-10</text>
<line x1="488.6" y1="408.1" x2="493.1" y2="408.1" stroke="#000" stroke-width="2.1"/>
<line x1="485.1" y1="439.8" x2="493.1" y2="439.8" stroke="#000" stroke-width="2.1"/>
<text x="483.4" y="444.8" text-anchor="end" font-size="14.2" font-family="Liberation Sans, sans-serif">-15</text>
<line x1="488.6" y1="471.5" x2="493.1" y2="471.5" stroke="#000" stroke-width="2.1"/>
<line x1="485.1" y1="503.2" x2="493.1" y2="503.2" stroke="#000" stroke-width="2.1"/>
<text x="483.4" y="508.2" text-anchor="end" font-size="14.2" font-family="Liberation Sans, sans-serif">-20</text>
<line x1="493.1" y1="503.2" x2="493.1" y2="511.2" stroke="#000" stroke-width="2.1"/>
<text x="493.1" y="525.6" text-anchor="middle" font-size="14" font-family="Liberation Sans, sans-serif">0</text>
<line x1="528.7" y1="503.2" x2="528.7" y2="507.7" stroke="#000" stroke-width="2.1"/>
<line x1="564.4" y1="503.2" x2="564.4" y2="511.2" stroke="#000" stroke-width="2.1"/>
<text x="564.4" y="525.6" text-anchor="middle" font-size="14" font-family="Liberation Sans, sans-serif">10</text>
<line x1="600.0" y1="503.2" x2="600.0" y2="507.7" stroke="#000" stroke-width="2.1"/>
<line x1="635.7" y1="503.2" x2="635.7" y2="511.2" stroke="#000" stroke-width="2.1"/>
<text x="635.7" y="525.6" text-anchor="middle" font-size="14" font-family="Liberation Sans, sans-serif">20</text>
<line x1="671.3" y1="503.2" x2="671.3" y2="507.7" stroke="#000" stroke-width="2.1"/>
<line x1="706.9" y1="503.2" x2="706.9" y2="511.2" stroke="#000" stroke-width="2.1"/>
<text x="706.9" y="525.6" text-anchor="middle" font-size="14" font-family="Liberation Sans, sans-serif">30</text>
<line x1="742.6" y1="503.2" x2="742.6" y2="507.7" stroke="#000" stroke-width="2.1"/>
<line x1="778.2" y1="503.2" x2="778.2" y2="511.2" stroke="#000" stroke-width="2.1"/>
<text x="778.2" y="525.6" text-anchor="middle" font-size="14" font-family="Liberation Sans, sans-serif">40</text>
<text transform="translate(454.5,406.3) rotate(-90)" text-anchor="middle" font-size="15.3" font-family="Liberation Sans, sans-serif">ΔG (kJ mol<tspan font-size="9.5" dy="-5">-1</tspan><tspan dy="5">)</tspan></text>
<text x="636" y="549.4" text-anchor="middle" font-size="15.1" font-family="Liberation Sans, sans-serif">[CHOL] (%)</text>
<polyline points="500.2,443.6 510.9,408.1 528.7,395.4 564.4,361.2 600.0,357.4 706.9,349.8 778.2,349.8" stroke="#f42a16" stroke-width="1.3" fill="none"/>
<polyline points="500.2,396.7 510.9,414.4 528.7,405.6 564.4,396.7 600.0,392.9 706.9,371.3 778.2,366.3" stroke="#2038f4" stroke-width="1.3" fill="none"/>
<rect x="496.4" y="439.8" width="7.6" height="7.6" fill="#f42a16"/>
<rect x="507.1" y="404.3" width="7.6" height="7.6" fill="#f42a16"/>
<rect x="524.9" y="391.6" width="7.6" height="7.6" fill="#f42a16"/>
<rect x="560.6" y="357.4" width="7.6" height="7.6" fill="#f42a16"/>
<rect x="596.2" y="353.6" width="7.6" height="7.6" fill="#f42a16"/>
<rect x="703.1" y="346.0" width="7.6" height="7.6" fill="#f42a16"/>
<rect x="774.4" y="346.0" width="7.6" height="7.6" fill="#f42a16"/>
<circle cx="500.2" cy="396.7" r="4" fill="#2038f4"/>
<circle cx="510.9" cy="414.4" r="4" fill="#2038f4"/>
<circle cx="528.7" cy="405.6" r="4" fill="#2038f4"/>
<circle cx="564.4" cy="396.7" r="4" fill="#2038f4"/>
<circle cx="600.0" cy="392.9" r="4" fill="#2038f4"/>
<circle cx="706.9" cy="371.3" r="4" fill="#2038f4"/>
<circle cx="778.2" cy="366.3" r="4" fill="#2038f4"/>
<text x="419.9" y="14.4" font-size="20" font-weight="bold" font-family="Liberation Sans, sans-serif">B</text>
<text x="13.2" y="308.4" font-size="20" font-weight="bold" font-family="Liberation Sans, sans-serif">C</text>
<text x="428.3" y="308.4" font-size="20" font-weight="bold" font-family="Liberation Sans, sans-serif">D</text>
</svg>
</body></html>
